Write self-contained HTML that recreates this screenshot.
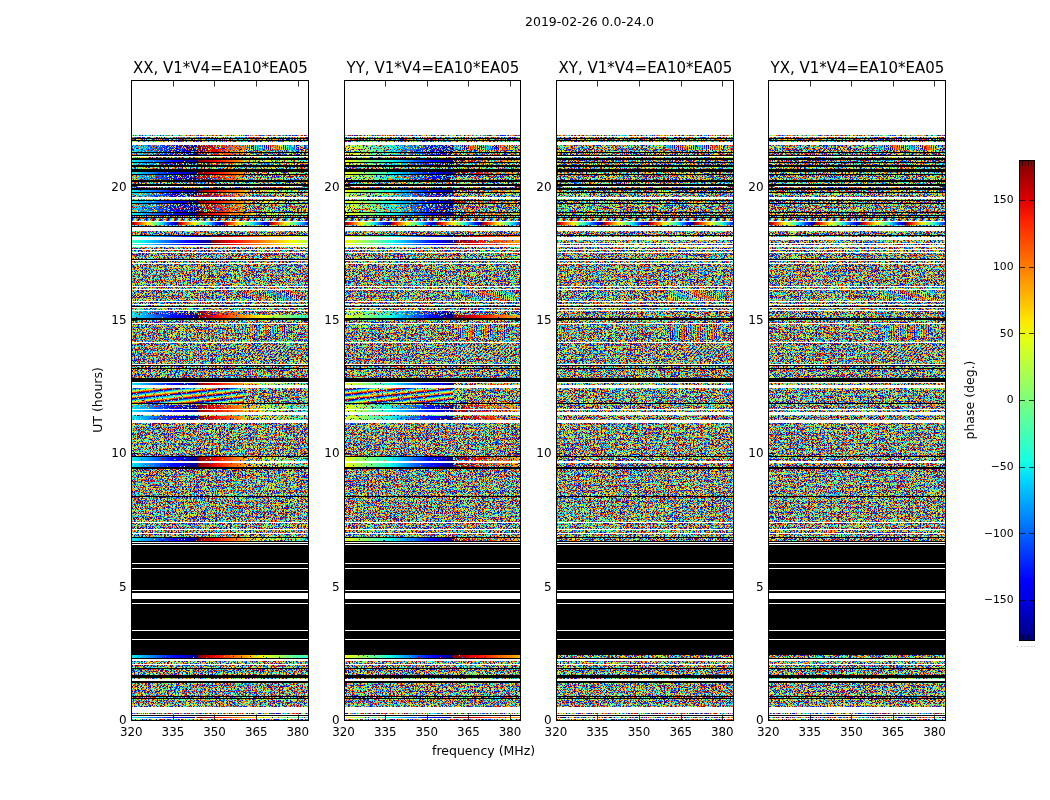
<!DOCTYPE html><html><head><meta charset="utf-8"><title>phase plot</title><style>html,body{margin:0;padding:0;background:#fff;overflow:hidden}svg{display:block}text{font-family:"DejaVu Sans","Liberation Sans",sans-serif;fill:#000}</style></head><body>
<svg width="1050" height="800" viewBox="0 0 1050 800">
<defs>
<filter id="nz0" x="0" y="0" width="100%" height="100%" filterUnits="objectBoundingBox" color-interpolation-filters="sRGB"><feTurbulence type="fractalNoise" baseFrequency="0.73 0.81" numOctaves="1" seed="3"/><feColorMatrix type="matrix" values="1 0 0 0 0 1 0 0 0 0 1 0 0 0 0 0 0 0 0 1"/><feComponentTransfer><feFuncR type="table" tableValues="0 0 0 0 0 0 0 0 0 0 0 0 0 0 0 0 0 0 0 0 0 0 0 0 0 0 0 0 0 0 0 0 0 0 0 0 0 0 0 0.022 0.16 0.3 0.447 0.586 0.728 0.866 1 1 1 1 1 1 1 1 0.994 0.909 0.836 0.77 0.711 0.657 0.614 0.579 0.55 0.53 0.519 0.512 0.507 0.504 0.502 0.501 0.501 0.5 0.5 0.5 0.5 0.5 0.5 0.5 0.5 0.5 0.5 0.5 0.5 0.5 0.5 0.5"/><feFuncG type="table" tableValues="0 0 0 0 0 0 0 0 0 0 0 0 0 0 0 0 0 0 0 0 0 0 0 0 0 0 0 0 0 0 0 0 0.041 0.132 0.233 0.34 0.463 0.6 0.758 0.927 1 1 1 1 1 1 0.917 0.762 0.627 0.513 0.406 0.312 0.226 0.144 0.069 0 0 0 0 0 0 0 0 0 0 0 0 0 0 0 0 0 0 0 0 0 0 0 0 0 0 0 0 0 0 0"/><feFuncB type="table" tableValues="0.5 0.5 0.5 0.5 0.5 0.5 0.5 0.5 0.5 0.5 0.5 0.5 0.5 0.5 0.5 0.501 0.501 0.502 0.503 0.506 0.51 0.517 0.528 0.547 0.574 0.612 0.659 0.712 0.777 0.848 0.93 1 1 1 1 1 1 1 1 0.946 0.807 0.668 0.521 0.381 0.24 0.102 0 0 0 0 0 0 0 0 0 0 0 0 0 0 0 0 0 0 0 0 0 0 0 0 0 0 0 0 0 0 0 0 0 0 0 0 0 0 0 0"/></feComponentTransfer><feComposite operator="in" in2="SourceGraphic"/></filter>
<filter id="nz1" x="0" y="0" width="100%" height="100%" filterUnits="objectBoundingBox" color-interpolation-filters="sRGB"><feTurbulence type="fractalNoise" baseFrequency="0.73 0.81" numOctaves="1" seed="10"/><feColorMatrix type="matrix" values="1 0 0 0 0 1 0 0 0 0 1 0 0 0 0 0 0 0 0 1"/><feComponentTransfer><feFuncR type="table" tableValues="0 0 0 0 0 0 0 0 0 0 0 0 0 0 0 0 0 0 0 0 0 0 0 0 0 0 0 0 0 0 0 0 0 0 0 0 0 0 0 0.022 0.16 0.3 0.447 0.586 0.728 0.866 1 1 1 1 1 1 1 1 0.994 0.909 0.836 0.77 0.711 0.657 0.614 0.579 0.55 0.53 0.519 0.512 0.507 0.504 0.502 0.501 0.501 0.5 0.5 0.5 0.5 0.5 0.5 0.5 0.5 0.5 0.5 0.5 0.5 0.5 0.5 0.5"/><feFuncG type="table" tableValues="0 0 0 0 0 0 0 0 0 0 0 0 0 0 0 0 0 0 0 0 0 0 0 0 0 0 0 0 0 0 0 0 0.041 0.132 0.233 0.34 0.463 0.6 0.758 0.927 1 1 1 1 1 1 0.917 0.762 0.627 0.513 0.406 0.312 0.226 0.144 0.069 0 0 0 0 0 0 0 0 0 0 0 0 0 0 0 0 0 0 0 0 0 0 0 0 0 0 0 0 0 0 0"/><feFuncB type="table" tableValues="0.5 0.5 0.5 0.5 0.5 0.5 0.5 0.5 0.5 0.5 0.5 0.5 0.5 0.5 0.5 0.501 0.501 0.502 0.503 0.506 0.51 0.517 0.528 0.547 0.574 0.612 0.659 0.712 0.777 0.848 0.93 1 1 1 1 1 1 1 1 0.946 0.807 0.668 0.521 0.381 0.24 0.102 0 0 0 0 0 0 0 0 0 0 0 0 0 0 0 0 0 0 0 0 0 0 0 0 0 0 0 0 0 0 0 0 0 0 0 0 0 0 0 0"/></feComponentTransfer><feComposite operator="in" in2="SourceGraphic"/></filter>
<filter id="nz2" x="0" y="0" width="100%" height="100%" filterUnits="objectBoundingBox" color-interpolation-filters="sRGB"><feTurbulence type="fractalNoise" baseFrequency="0.73 0.81" numOctaves="1" seed="17"/><feColorMatrix type="matrix" values="1 0 0 0 0 1 0 0 0 0 1 0 0 0 0 0 0 0 0 1"/><feComponentTransfer><feFuncR type="table" tableValues="0 0 0 0 0 0 0 0 0 0 0 0 0 0 0 0 0 0 0 0 0 0 0 0 0 0 0 0 0 0 0 0 0 0 0 0 0 0 0 0.022 0.16 0.3 0.447 0.586 0.728 0.866 1 1 1 1 1 1 1 1 0.994 0.909 0.836 0.77 0.711 0.657 0.614 0.579 0.55 0.53 0.519 0.512 0.507 0.504 0.502 0.501 0.501 0.5 0.5 0.5 0.5 0.5 0.5 0.5 0.5 0.5 0.5 0.5 0.5 0.5 0.5 0.5"/><feFuncG type="table" tableValues="0 0 0 0 0 0 0 0 0 0 0 0 0 0 0 0 0 0 0 0 0 0 0 0 0 0 0 0 0 0 0 0 0.041 0.132 0.233 0.34 0.463 0.6 0.758 0.927 1 1 1 1 1 1 0.917 0.762 0.627 0.513 0.406 0.312 0.226 0.144 0.069 0 0 0 0 0 0 0 0 0 0 0 0 0 0 0 0 0 0 0 0 0 0 0 0 0 0 0 0 0 0 0"/><feFuncB type="table" tableValues="0.5 0.5 0.5 0.5 0.5 0.5 0.5 0.5 0.5 0.5 0.5 0.5 0.5 0.5 0.5 0.501 0.501 0.502 0.503 0.506 0.51 0.517 0.528 0.547 0.574 0.612 0.659 0.712 0.777 0.848 0.93 1 1 1 1 1 1 1 1 0.946 0.807 0.668 0.521 0.381 0.24 0.102 0 0 0 0 0 0 0 0 0 0 0 0 0 0 0 0 0 0 0 0 0 0 0 0 0 0 0 0 0 0 0 0 0 0 0 0 0 0 0 0"/></feComponentTransfer><feComposite operator="in" in2="SourceGraphic"/></filter>
<filter id="nz3" x="0" y="0" width="100%" height="100%" filterUnits="objectBoundingBox" color-interpolation-filters="sRGB"><feTurbulence type="fractalNoise" baseFrequency="0.73 0.81" numOctaves="1" seed="24"/><feColorMatrix type="matrix" values="1 0 0 0 0 1 0 0 0 0 1 0 0 0 0 0 0 0 0 1"/><feComponentTransfer><feFuncR type="table" tableValues="0 0 0 0 0 0 0 0 0 0 0 0 0 0 0 0 0 0 0 0 0 0 0 0 0 0 0 0 0 0 0 0 0 0 0 0 0 0 0 0.022 0.16 0.3 0.447 0.586 0.728 0.866 1 1 1 1 1 1 1 1 0.994 0.909 0.836 0.77 0.711 0.657 0.614 0.579 0.55 0.53 0.519 0.512 0.507 0.504 0.502 0.501 0.501 0.5 0.5 0.5 0.5 0.5 0.5 0.5 0.5 0.5 0.5 0.5 0.5 0.5 0.5 0.5"/><feFuncG type="table" tableValues="0 0 0 0 0 0 0 0 0 0 0 0 0 0 0 0 0 0 0 0 0 0 0 0 0 0 0 0 0 0 0 0 0.041 0.132 0.233 0.34 0.463 0.6 0.758 0.927 1 1 1 1 1 1 0.917 0.762 0.627 0.513 0.406 0.312 0.226 0.144 0.069 0 0 0 0 0 0 0 0 0 0 0 0 0 0 0 0 0 0 0 0 0 0 0 0 0 0 0 0 0 0 0"/><feFuncB type="table" tableValues="0.5 0.5 0.5 0.5 0.5 0.5 0.5 0.5 0.5 0.5 0.5 0.5 0.5 0.5 0.5 0.501 0.501 0.502 0.503 0.506 0.51 0.517 0.528 0.547 0.574 0.612 0.659 0.712 0.777 0.848 0.93 1 1 1 1 1 1 1 1 0.946 0.807 0.668 0.521 0.381 0.24 0.102 0 0 0 0 0 0 0 0 0 0 0 0 0 0 0 0 0 0 0 0 0 0 0 0 0 0 0 0 0 0 0 0 0 0 0 0 0 0 0 0"/></feComponentTransfer><feComposite operator="in" in2="SourceGraphic"/></filter>
<filter id="ns0" x="0" y="0" width="100%" height="100%" filterUnits="objectBoundingBox" color-interpolation-filters="sRGB"><feTurbulence type="fractalNoise" baseFrequency="0.77 0.69" numOctaves="1" seed="41"/><feColorMatrix type="matrix" values="1 0 0 0 0 1 0 0 0 0 1 0 0 0 0 0 1 0 0 0"/><feComponentTransfer><feFuncR type="table" tableValues="0 0 0 0 0 0 0 0 0 0 0 0 0 0 0 0 0 0 0 0 0 0 0 0 0 0 0 0 0 0 0 0 0 0 0 0 0 0 0 0.022 0.16 0.3 0.447 0.586 0.728 0.866 1 1 1 1 1 1 1 1 0.994 0.909 0.836 0.77 0.711 0.657 0.614 0.579 0.55 0.53 0.519 0.512 0.507 0.504 0.502 0.501 0.501 0.5 0.5 0.5 0.5 0.5 0.5 0.5 0.5 0.5 0.5 0.5 0.5 0.5 0.5 0.5"/><feFuncG type="table" tableValues="0 0 0 0 0 0 0 0 0 0 0 0 0 0 0 0 0 0 0 0 0 0 0 0 0 0 0 0 0 0 0 0 0.041 0.132 0.233 0.34 0.463 0.6 0.758 0.927 1 1 1 1 1 1 0.917 0.762 0.627 0.513 0.406 0.312 0.226 0.144 0.069 0 0 0 0 0 0 0 0 0 0 0 0 0 0 0 0 0 0 0 0 0 0 0 0 0 0 0 0 0 0 0"/><feFuncB type="table" tableValues="0.5 0.5 0.5 0.5 0.5 0.5 0.5 0.5 0.5 0.5 0.5 0.5 0.5 0.5 0.5 0.501 0.501 0.502 0.503 0.506 0.51 0.517 0.528 0.547 0.574 0.612 0.659 0.712 0.777 0.848 0.93 1 1 1 1 1 1 1 1 0.946 0.807 0.668 0.521 0.381 0.24 0.102 0 0 0 0 0 0 0 0 0 0 0 0 0 0 0 0 0 0 0 0 0 0 0 0 0 0 0 0 0 0 0 0 0 0 0 0 0 0 0 0"/><feFuncA type="linear" slope="255" intercept="-176.0"/></feComponentTransfer><feComposite operator="in" in2="SourceGraphic"/></filter>
<filter id="nq0" x="0" y="0" width="100%" height="100%" filterUnits="objectBoundingBox" color-interpolation-filters="sRGB"><feTurbulence type="fractalNoise" baseFrequency="0.79 0.67" numOctaves="1" seed="52"/><feColorMatrix type="matrix" values="1 0 0 0 0 1 0 0 0 0 1 0 0 0 0 0 1 0 0 0"/><feComponentTransfer><feFuncR type="table" tableValues="0 0 0 0 0 0 0 0 0 0 0 0 0 0 0 0 0 0 0 0 0 0 0 0 0 0 0 0 0 0 0 0 0 0 0 0 0 0 0 0.022 0.16 0.3 0.447 0.586 0.728 0.866 1 1 1 1 1 1 1 1 0.994 0.909 0.836 0.77 0.711 0.657 0.614 0.579 0.55 0.53 0.519 0.512 0.507 0.504 0.502 0.501 0.501 0.5 0.5 0.5 0.5 0.5 0.5 0.5 0.5 0.5 0.5 0.5 0.5 0.5 0.5 0.5"/><feFuncG type="table" tableValues="0 0 0 0 0 0 0 0 0 0 0 0 0 0 0 0 0 0 0 0 0 0 0 0 0 0 0 0 0 0 0 0 0.041 0.132 0.233 0.34 0.463 0.6 0.758 0.927 1 1 1 1 1 1 0.917 0.762 0.627 0.513 0.406 0.312 0.226 0.144 0.069 0 0 0 0 0 0 0 0 0 0 0 0 0 0 0 0 0 0 0 0 0 0 0 0 0 0 0 0 0 0 0"/><feFuncB type="table" tableValues="0.5 0.5 0.5 0.5 0.5 0.5 0.5 0.5 0.5 0.5 0.5 0.5 0.5 0.5 0.5 0.501 0.501 0.502 0.503 0.506 0.51 0.517 0.528 0.547 0.574 0.612 0.659 0.712 0.777 0.848 0.93 1 1 1 1 1 1 1 1 0.946 0.807 0.668 0.521 0.381 0.24 0.102 0 0 0 0 0 0 0 0 0 0 0 0 0 0 0 0 0 0 0 0 0 0 0 0 0 0 0 0 0 0 0 0 0 0 0 0 0 0 0 0"/><feFuncA type="linear" slope="255" intercept="-145.0"/></feComponentTransfer><feComposite operator="in" in2="SourceGraphic"/></filter>
<filter id="nh0" x="0" y="0" width="100%" height="100%" filterUnits="objectBoundingBox" color-interpolation-filters="sRGB"><feTurbulence type="fractalNoise" baseFrequency="0.71 0.83" numOctaves="1" seed="63"/><feColorMatrix type="matrix" values="1 0 0 0 0 1 0 0 0 0 1 0 0 0 0 0 1 0 0 0"/><feComponentTransfer><feFuncR type="table" tableValues="0 0 0 0 0 0 0 0 0 0 0 0 0 0 0 0 0 0 0 0 0 0 0 0 0 0 0 0 0 0 0 0 0 0 0 0 0 0 0 0.022 0.16 0.3 0.447 0.586 0.728 0.866 1 1 1 1 1 1 1 1 0.994 0.909 0.836 0.77 0.711 0.657 0.614 0.579 0.55 0.53 0.519 0.512 0.507 0.504 0.502 0.501 0.501 0.5 0.5 0.5 0.5 0.5 0.5 0.5 0.5 0.5 0.5 0.5 0.5 0.5 0.5 0.5"/><feFuncG type="table" tableValues="0 0 0 0 0 0 0 0 0 0 0 0 0 0 0 0 0 0 0 0 0 0 0 0 0 0 0 0 0 0 0 0 0.041 0.132 0.233 0.34 0.463 0.6 0.758 0.927 1 1 1 1 1 1 0.917 0.762 0.627 0.513 0.406 0.312 0.226 0.144 0.069 0 0 0 0 0 0 0 0 0 0 0 0 0 0 0 0 0 0 0 0 0 0 0 0 0 0 0 0 0 0 0"/><feFuncB type="table" tableValues="0.5 0.5 0.5 0.5 0.5 0.5 0.5 0.5 0.5 0.5 0.5 0.5 0.5 0.5 0.5 0.501 0.501 0.502 0.503 0.506 0.51 0.517 0.528 0.547 0.574 0.612 0.659 0.712 0.777 0.848 0.93 1 1 1 1 1 1 1 1 0.946 0.807 0.668 0.521 0.381 0.24 0.102 0 0 0 0 0 0 0 0 0 0 0 0 0 0 0 0 0 0 0 0 0 0 0 0 0 0 0 0 0 0 0 0 0 0 0 0 0 0 0 0"/><feFuncA type="linear" slope="255" intercept="-128.0"/></feComponentTransfer><feComposite operator="in" in2="SourceGraphic"/></filter>
<filter id="nd0" x="0" y="0" width="100%" height="100%" filterUnits="objectBoundingBox" color-interpolation-filters="sRGB"><feTurbulence type="fractalNoise" baseFrequency="0.69 0.87" numOctaves="1" seed="74"/><feColorMatrix type="matrix" values="1 0 0 0 0 1 0 0 0 0 1 0 0 0 0 0 1 0 0 0"/><feComponentTransfer><feFuncR type="table" tableValues="0 0 0 0 0 0 0 0 0 0 0 0 0 0 0 0 0 0 0 0 0 0 0 0 0 0 0 0 0 0 0 0 0 0 0 0 0 0 0 0.022 0.16 0.3 0.447 0.586 0.728 0.866 1 1 1 1 1 1 1 1 0.994 0.909 0.836 0.77 0.711 0.657 0.614 0.579 0.55 0.53 0.519 0.512 0.507 0.504 0.502 0.501 0.501 0.5 0.5 0.5 0.5 0.5 0.5 0.5 0.5 0.5 0.5 0.5 0.5 0.5 0.5 0.5"/><feFuncG type="table" tableValues="0 0 0 0 0 0 0 0 0 0 0 0 0 0 0 0 0 0 0 0 0 0 0 0 0 0 0 0 0 0 0 0 0.041 0.132 0.233 0.34 0.463 0.6 0.758 0.927 1 1 1 1 1 1 0.917 0.762 0.627 0.513 0.406 0.312 0.226 0.144 0.069 0 0 0 0 0 0 0 0 0 0 0 0 0 0 0 0 0 0 0 0 0 0 0 0 0 0 0 0 0 0 0"/><feFuncB type="table" tableValues="0.5 0.5 0.5 0.5 0.5 0.5 0.5 0.5 0.5 0.5 0.5 0.5 0.5 0.5 0.5 0.501 0.501 0.502 0.503 0.506 0.51 0.517 0.528 0.547 0.574 0.612 0.659 0.712 0.777 0.848 0.93 1 1 1 1 1 1 1 1 0.946 0.807 0.668 0.521 0.381 0.24 0.102 0 0 0 0 0 0 0 0 0 0 0 0 0 0 0 0 0 0 0 0 0 0 0 0 0 0 0 0 0 0 0 0 0 0 0 0 0 0 0 0"/><feFuncA type="linear" slope="255" intercept="-121.0"/></feComponentTransfer><feComposite operator="in" in2="SourceGraphic"/></filter>
<filter id="ns1" x="0" y="0" width="100%" height="100%" filterUnits="objectBoundingBox" color-interpolation-filters="sRGB"><feTurbulence type="fractalNoise" baseFrequency="0.77 0.69" numOctaves="1" seed="46"/><feColorMatrix type="matrix" values="1 0 0 0 0 1 0 0 0 0 1 0 0 0 0 0 1 0 0 0"/><feComponentTransfer><feFuncR type="table" tableValues="0 0 0 0 0 0 0 0 0 0 0 0 0 0 0 0 0 0 0 0 0 0 0 0 0 0 0 0 0 0 0 0 0 0 0 0 0 0 0 0.022 0.16 0.3 0.447 0.586 0.728 0.866 1 1 1 1 1 1 1 1 0.994 0.909 0.836 0.77 0.711 0.657 0.614 0.579 0.55 0.53 0.519 0.512 0.507 0.504 0.502 0.501 0.501 0.5 0.5 0.5 0.5 0.5 0.5 0.5 0.5 0.5 0.5 0.5 0.5 0.5 0.5 0.5"/><feFuncG type="table" tableValues="0 0 0 0 0 0 0 0 0 0 0 0 0 0 0 0 0 0 0 0 0 0 0 0 0 0 0 0 0 0 0 0 0.041 0.132 0.233 0.34 0.463 0.6 0.758 0.927 1 1 1 1 1 1 0.917 0.762 0.627 0.513 0.406 0.312 0.226 0.144 0.069 0 0 0 0 0 0 0 0 0 0 0 0 0 0 0 0 0 0 0 0 0 0 0 0 0 0 0 0 0 0 0"/><feFuncB type="table" tableValues="0.5 0.5 0.5 0.5 0.5 0.5 0.5 0.5 0.5 0.5 0.5 0.5 0.5 0.5 0.5 0.501 0.501 0.502 0.503 0.506 0.51 0.517 0.528 0.547 0.574 0.612 0.659 0.712 0.777 0.848 0.93 1 1 1 1 1 1 1 1 0.946 0.807 0.668 0.521 0.381 0.24 0.102 0 0 0 0 0 0 0 0 0 0 0 0 0 0 0 0 0 0 0 0 0 0 0 0 0 0 0 0 0 0 0 0 0 0 0 0 0 0 0 0"/><feFuncA type="linear" slope="255" intercept="-176.0"/></feComponentTransfer><feComposite operator="in" in2="SourceGraphic"/></filter>
<filter id="nq1" x="0" y="0" width="100%" height="100%" filterUnits="objectBoundingBox" color-interpolation-filters="sRGB"><feTurbulence type="fractalNoise" baseFrequency="0.79 0.67" numOctaves="1" seed="57"/><feColorMatrix type="matrix" values="1 0 0 0 0 1 0 0 0 0 1 0 0 0 0 0 1 0 0 0"/><feComponentTransfer><feFuncR type="table" tableValues="0 0 0 0 0 0 0 0 0 0 0 0 0 0 0 0 0 0 0 0 0 0 0 0 0 0 0 0 0 0 0 0 0 0 0 0 0 0 0 0.022 0.16 0.3 0.447 0.586 0.728 0.866 1 1 1 1 1 1 1 1 0.994 0.909 0.836 0.77 0.711 0.657 0.614 0.579 0.55 0.53 0.519 0.512 0.507 0.504 0.502 0.501 0.501 0.5 0.5 0.5 0.5 0.5 0.5 0.5 0.5 0.5 0.5 0.5 0.5 0.5 0.5 0.5"/><feFuncG type="table" tableValues="0 0 0 0 0 0 0 0 0 0 0 0 0 0 0 0 0 0 0 0 0 0 0 0 0 0 0 0 0 0 0 0 0.041 0.132 0.233 0.34 0.463 0.6 0.758 0.927 1 1 1 1 1 1 0.917 0.762 0.627 0.513 0.406 0.312 0.226 0.144 0.069 0 0 0 0 0 0 0 0 0 0 0 0 0 0 0 0 0 0 0 0 0 0 0 0 0 0 0 0 0 0 0"/><feFuncB type="table" tableValues="0.5 0.5 0.5 0.5 0.5 0.5 0.5 0.5 0.5 0.5 0.5 0.5 0.5 0.5 0.5 0.501 0.501 0.502 0.503 0.506 0.51 0.517 0.528 0.547 0.574 0.612 0.659 0.712 0.777 0.848 0.93 1 1 1 1 1 1 1 1 0.946 0.807 0.668 0.521 0.381 0.24 0.102 0 0 0 0 0 0 0 0 0 0 0 0 0 0 0 0 0 0 0 0 0 0 0 0 0 0 0 0 0 0 0 0 0 0 0 0 0 0 0 0"/><feFuncA type="linear" slope="255" intercept="-145.0"/></feComponentTransfer><feComposite operator="in" in2="SourceGraphic"/></filter>
<filter id="nh1" x="0" y="0" width="100%" height="100%" filterUnits="objectBoundingBox" color-interpolation-filters="sRGB"><feTurbulence type="fractalNoise" baseFrequency="0.71 0.83" numOctaves="1" seed="68"/><feColorMatrix type="matrix" values="1 0 0 0 0 1 0 0 0 0 1 0 0 0 0 0 1 0 0 0"/><feComponentTransfer><feFuncR type="table" tableValues="0 0 0 0 0 0 0 0 0 0 0 0 0 0 0 0 0 0 0 0 0 0 0 0 0 0 0 0 0 0 0 0 0 0 0 0 0 0 0 0.022 0.16 0.3 0.447 0.586 0.728 0.866 1 1 1 1 1 1 1 1 0.994 0.909 0.836 0.77 0.711 0.657 0.614 0.579 0.55 0.53 0.519 0.512 0.507 0.504 0.502 0.501 0.501 0.5 0.5 0.5 0.5 0.5 0.5 0.5 0.5 0.5 0.5 0.5 0.5 0.5 0.5 0.5"/><feFuncG type="table" tableValues="0 0 0 0 0 0 0 0 0 0 0 0 0 0 0 0 0 0 0 0 0 0 0 0 0 0 0 0 0 0 0 0 0.041 0.132 0.233 0.34 0.463 0.6 0.758 0.927 1 1 1 1 1 1 0.917 0.762 0.627 0.513 0.406 0.312 0.226 0.144 0.069 0 0 0 0 0 0 0 0 0 0 0 0 0 0 0 0 0 0 0 0 0 0 0 0 0 0 0 0 0 0 0"/><feFuncB type="table" tableValues="0.5 0.5 0.5 0.5 0.5 0.5 0.5 0.5 0.5 0.5 0.5 0.5 0.5 0.5 0.5 0.501 0.501 0.502 0.503 0.506 0.51 0.517 0.528 0.547 0.574 0.612 0.659 0.712 0.777 0.848 0.93 1 1 1 1 1 1 1 1 0.946 0.807 0.668 0.521 0.381 0.24 0.102 0 0 0 0 0 0 0 0 0 0 0 0 0 0 0 0 0 0 0 0 0 0 0 0 0 0 0 0 0 0 0 0 0 0 0 0 0 0 0 0"/><feFuncA type="linear" slope="255" intercept="-128.0"/></feComponentTransfer><feComposite operator="in" in2="SourceGraphic"/></filter>
<filter id="nd1" x="0" y="0" width="100%" height="100%" filterUnits="objectBoundingBox" color-interpolation-filters="sRGB"><feTurbulence type="fractalNoise" baseFrequency="0.69 0.87" numOctaves="1" seed="79"/><feColorMatrix type="matrix" values="1 0 0 0 0 1 0 0 0 0 1 0 0 0 0 0 1 0 0 0"/><feComponentTransfer><feFuncR type="table" tableValues="0 0 0 0 0 0 0 0 0 0 0 0 0 0 0 0 0 0 0 0 0 0 0 0 0 0 0 0 0 0 0 0 0 0 0 0 0 0 0 0.022 0.16 0.3 0.447 0.586 0.728 0.866 1 1 1 1 1 1 1 1 0.994 0.909 0.836 0.77 0.711 0.657 0.614 0.579 0.55 0.53 0.519 0.512 0.507 0.504 0.502 0.501 0.501 0.5 0.5 0.5 0.5 0.5 0.5 0.5 0.5 0.5 0.5 0.5 0.5 0.5 0.5 0.5"/><feFuncG type="table" tableValues="0 0 0 0 0 0 0 0 0 0 0 0 0 0 0 0 0 0 0 0 0 0 0 0 0 0 0 0 0 0 0 0 0.041 0.132 0.233 0.34 0.463 0.6 0.758 0.927 1 1 1 1 1 1 0.917 0.762 0.627 0.513 0.406 0.312 0.226 0.144 0.069 0 0 0 0 0 0 0 0 0 0 0 0 0 0 0 0 0 0 0 0 0 0 0 0 0 0 0 0 0 0 0"/><feFuncB type="table" tableValues="0.5 0.5 0.5 0.5 0.5 0.5 0.5 0.5 0.5 0.5 0.5 0.5 0.5 0.5 0.5 0.501 0.501 0.502 0.503 0.506 0.51 0.517 0.528 0.547 0.574 0.612 0.659 0.712 0.777 0.848 0.93 1 1 1 1 1 1 1 1 0.946 0.807 0.668 0.521 0.381 0.24 0.102 0 0 0 0 0 0 0 0 0 0 0 0 0 0 0 0 0 0 0 0 0 0 0 0 0 0 0 0 0 0 0 0 0 0 0 0 0 0 0 0"/><feFuncA type="linear" slope="255" intercept="-121.0"/></feComponentTransfer><feComposite operator="in" in2="SourceGraphic"/></filter>
<filter id="ns2" x="0" y="0" width="100%" height="100%" filterUnits="objectBoundingBox" color-interpolation-filters="sRGB"><feTurbulence type="fractalNoise" baseFrequency="0.77 0.69" numOctaves="1" seed="51"/><feColorMatrix type="matrix" values="1 0 0 0 0 1 0 0 0 0 1 0 0 0 0 0 1 0 0 0"/><feComponentTransfer><feFuncR type="table" tableValues="0 0 0 0 0 0 0 0 0 0 0 0 0 0 0 0 0 0 0 0 0 0 0 0 0 0 0 0 0 0 0 0 0 0 0 0 0 0 0 0.022 0.16 0.3 0.447 0.586 0.728 0.866 1 1 1 1 1 1 1 1 0.994 0.909 0.836 0.77 0.711 0.657 0.614 0.579 0.55 0.53 0.519 0.512 0.507 0.504 0.502 0.501 0.501 0.5 0.5 0.5 0.5 0.5 0.5 0.5 0.5 0.5 0.5 0.5 0.5 0.5 0.5 0.5"/><feFuncG type="table" tableValues="0 0 0 0 0 0 0 0 0 0 0 0 0 0 0 0 0 0 0 0 0 0 0 0 0 0 0 0 0 0 0 0 0.041 0.132 0.233 0.34 0.463 0.6 0.758 0.927 1 1 1 1 1 1 0.917 0.762 0.627 0.513 0.406 0.312 0.226 0.144 0.069 0 0 0 0 0 0 0 0 0 0 0 0 0 0 0 0 0 0 0 0 0 0 0 0 0 0 0 0 0 0 0"/><feFuncB type="table" tableValues="0.5 0.5 0.5 0.5 0.5 0.5 0.5 0.5 0.5 0.5 0.5 0.5 0.5 0.5 0.5 0.501 0.501 0.502 0.503 0.506 0.51 0.517 0.528 0.547 0.574 0.612 0.659 0.712 0.777 0.848 0.93 1 1 1 1 1 1 1 1 0.946 0.807 0.668 0.521 0.381 0.24 0.102 0 0 0 0 0 0 0 0 0 0 0 0 0 0 0 0 0 0 0 0 0 0 0 0 0 0 0 0 0 0 0 0 0 0 0 0 0 0 0 0"/><feFuncA type="linear" slope="255" intercept="-176.0"/></feComponentTransfer><feComposite operator="in" in2="SourceGraphic"/></filter>
<filter id="nq2" x="0" y="0" width="100%" height="100%" filterUnits="objectBoundingBox" color-interpolation-filters="sRGB"><feTurbulence type="fractalNoise" baseFrequency="0.79 0.67" numOctaves="1" seed="62"/><feColorMatrix type="matrix" values="1 0 0 0 0 1 0 0 0 0 1 0 0 0 0 0 1 0 0 0"/><feComponentTransfer><feFuncR type="table" tableValues="0 0 0 0 0 0 0 0 0 0 0 0 0 0 0 0 0 0 0 0 0 0 0 0 0 0 0 0 0 0 0 0 0 0 0 0 0 0 0 0.022 0.16 0.3 0.447 0.586 0.728 0.866 1 1 1 1 1 1 1 1 0.994 0.909 0.836 0.77 0.711 0.657 0.614 0.579 0.55 0.53 0.519 0.512 0.507 0.504 0.502 0.501 0.501 0.5 0.5 0.5 0.5 0.5 0.5 0.5 0.5 0.5 0.5 0.5 0.5 0.5 0.5 0.5"/><feFuncG type="table" tableValues="0 0 0 0 0 0 0 0 0 0 0 0 0 0 0 0 0 0 0 0 0 0 0 0 0 0 0 0 0 0 0 0 0.041 0.132 0.233 0.34 0.463 0.6 0.758 0.927 1 1 1 1 1 1 0.917 0.762 0.627 0.513 0.406 0.312 0.226 0.144 0.069 0 0 0 0 0 0 0 0 0 0 0 0 0 0 0 0 0 0 0 0 0 0 0 0 0 0 0 0 0 0 0"/><feFuncB type="table" tableValues="0.5 0.5 0.5 0.5 0.5 0.5 0.5 0.5 0.5 0.5 0.5 0.5 0.5 0.5 0.5 0.501 0.501 0.502 0.503 0.506 0.51 0.517 0.528 0.547 0.574 0.612 0.659 0.712 0.777 0.848 0.93 1 1 1 1 1 1 1 1 0.946 0.807 0.668 0.521 0.381 0.24 0.102 0 0 0 0 0 0 0 0 0 0 0 0 0 0 0 0 0 0 0 0 0 0 0 0 0 0 0 0 0 0 0 0 0 0 0 0 0 0 0 0"/><feFuncA type="linear" slope="255" intercept="-145.0"/></feComponentTransfer><feComposite operator="in" in2="SourceGraphic"/></filter>
<filter id="nh2" x="0" y="0" width="100%" height="100%" filterUnits="objectBoundingBox" color-interpolation-filters="sRGB"><feTurbulence type="fractalNoise" baseFrequency="0.71 0.83" numOctaves="1" seed="73"/><feColorMatrix type="matrix" values="1 0 0 0 0 1 0 0 0 0 1 0 0 0 0 0 1 0 0 0"/><feComponentTransfer><feFuncR type="table" tableValues="0 0 0 0 0 0 0 0 0 0 0 0 0 0 0 0 0 0 0 0 0 0 0 0 0 0 0 0 0 0 0 0 0 0 0 0 0 0 0 0.022 0.16 0.3 0.447 0.586 0.728 0.866 1 1 1 1 1 1 1 1 0.994 0.909 0.836 0.77 0.711 0.657 0.614 0.579 0.55 0.53 0.519 0.512 0.507 0.504 0.502 0.501 0.501 0.5 0.5 0.5 0.5 0.5 0.5 0.5 0.5 0.5 0.5 0.5 0.5 0.5 0.5 0.5"/><feFuncG type="table" tableValues="0 0 0 0 0 0 0 0 0 0 0 0 0 0 0 0 0 0 0 0 0 0 0 0 0 0 0 0 0 0 0 0 0.041 0.132 0.233 0.34 0.463 0.6 0.758 0.927 1 1 1 1 1 1 0.917 0.762 0.627 0.513 0.406 0.312 0.226 0.144 0.069 0 0 0 0 0 0 0 0 0 0 0 0 0 0 0 0 0 0 0 0 0 0 0 0 0 0 0 0 0 0 0"/><feFuncB type="table" tableValues="0.5 0.5 0.5 0.5 0.5 0.5 0.5 0.5 0.5 0.5 0.5 0.5 0.5 0.5 0.5 0.501 0.501 0.502 0.503 0.506 0.51 0.517 0.528 0.547 0.574 0.612 0.659 0.712 0.777 0.848 0.93 1 1 1 1 1 1 1 1 0.946 0.807 0.668 0.521 0.381 0.24 0.102 0 0 0 0 0 0 0 0 0 0 0 0 0 0 0 0 0 0 0 0 0 0 0 0 0 0 0 0 0 0 0 0 0 0 0 0 0 0 0 0"/><feFuncA type="linear" slope="255" intercept="-128.0"/></feComponentTransfer><feComposite operator="in" in2="SourceGraphic"/></filter>
<filter id="nd2" x="0" y="0" width="100%" height="100%" filterUnits="objectBoundingBox" color-interpolation-filters="sRGB"><feTurbulence type="fractalNoise" baseFrequency="0.69 0.87" numOctaves="1" seed="84"/><feColorMatrix type="matrix" values="1 0 0 0 0 1 0 0 0 0 1 0 0 0 0 0 1 0 0 0"/><feComponentTransfer><feFuncR type="table" tableValues="0 0 0 0 0 0 0 0 0 0 0 0 0 0 0 0 0 0 0 0 0 0 0 0 0 0 0 0 0 0 0 0 0 0 0 0 0 0 0 0.022 0.16 0.3 0.447 0.586 0.728 0.866 1 1 1 1 1 1 1 1 0.994 0.909 0.836 0.77 0.711 0.657 0.614 0.579 0.55 0.53 0.519 0.512 0.507 0.504 0.502 0.501 0.501 0.5 0.5 0.5 0.5 0.5 0.5 0.5 0.5 0.5 0.5 0.5 0.5 0.5 0.5 0.5"/><feFuncG type="table" tableValues="0 0 0 0 0 0 0 0 0 0 0 0 0 0 0 0 0 0 0 0 0 0 0 0 0 0 0 0 0 0 0 0 0.041 0.132 0.233 0.34 0.463 0.6 0.758 0.927 1 1 1 1 1 1 0.917 0.762 0.627 0.513 0.406 0.312 0.226 0.144 0.069 0 0 0 0 0 0 0 0 0 0 0 0 0 0 0 0 0 0 0 0 0 0 0 0 0 0 0 0 0 0 0"/><feFuncB type="table" tableValues="0.5 0.5 0.5 0.5 0.5 0.5 0.5 0.5 0.5 0.5 0.5 0.5 0.5 0.5 0.5 0.501 0.501 0.502 0.503 0.506 0.51 0.517 0.528 0.547 0.574 0.612 0.659 0.712 0.777 0.848 0.93 1 1 1 1 1 1 1 1 0.946 0.807 0.668 0.521 0.381 0.24 0.102 0 0 0 0 0 0 0 0 0 0 0 0 0 0 0 0 0 0 0 0 0 0 0 0 0 0 0 0 0 0 0 0 0 0 0 0 0 0 0 0"/><feFuncA type="linear" slope="255" intercept="-121.0"/></feComponentTransfer><feComposite operator="in" in2="SourceGraphic"/></filter>
<filter id="ns3" x="0" y="0" width="100%" height="100%" filterUnits="objectBoundingBox" color-interpolation-filters="sRGB"><feTurbulence type="fractalNoise" baseFrequency="0.77 0.69" numOctaves="1" seed="56"/><feColorMatrix type="matrix" values="1 0 0 0 0 1 0 0 0 0 1 0 0 0 0 0 1 0 0 0"/><feComponentTransfer><feFuncR type="table" tableValues="0 0 0 0 0 0 0 0 0 0 0 0 0 0 0 0 0 0 0 0 0 0 0 0 0 0 0 0 0 0 0 0 0 0 0 0 0 0 0 0.022 0.16 0.3 0.447 0.586 0.728 0.866 1 1 1 1 1 1 1 1 0.994 0.909 0.836 0.77 0.711 0.657 0.614 0.579 0.55 0.53 0.519 0.512 0.507 0.504 0.502 0.501 0.501 0.5 0.5 0.5 0.5 0.5 0.5 0.5 0.5 0.5 0.5 0.5 0.5 0.5 0.5 0.5"/><feFuncG type="table" tableValues="0 0 0 0 0 0 0 0 0 0 0 0 0 0 0 0 0 0 0 0 0 0 0 0 0 0 0 0 0 0 0 0 0.041 0.132 0.233 0.34 0.463 0.6 0.758 0.927 1 1 1 1 1 1 0.917 0.762 0.627 0.513 0.406 0.312 0.226 0.144 0.069 0 0 0 0 0 0 0 0 0 0 0 0 0 0 0 0 0 0 0 0 0 0 0 0 0 0 0 0 0 0 0"/><feFuncB type="table" tableValues="0.5 0.5 0.5 0.5 0.5 0.5 0.5 0.5 0.5 0.5 0.5 0.5 0.5 0.5 0.5 0.501 0.501 0.502 0.503 0.506 0.51 0.517 0.528 0.547 0.574 0.612 0.659 0.712 0.777 0.848 0.93 1 1 1 1 1 1 1 1 0.946 0.807 0.668 0.521 0.381 0.24 0.102 0 0 0 0 0 0 0 0 0 0 0 0 0 0 0 0 0 0 0 0 0 0 0 0 0 0 0 0 0 0 0 0 0 0 0 0 0 0 0 0"/><feFuncA type="linear" slope="255" intercept="-176.0"/></feComponentTransfer><feComposite operator="in" in2="SourceGraphic"/></filter>
<filter id="nq3" x="0" y="0" width="100%" height="100%" filterUnits="objectBoundingBox" color-interpolation-filters="sRGB"><feTurbulence type="fractalNoise" baseFrequency="0.79 0.67" numOctaves="1" seed="67"/><feColorMatrix type="matrix" values="1 0 0 0 0 1 0 0 0 0 1 0 0 0 0 0 1 0 0 0"/><feComponentTransfer><feFuncR type="table" tableValues="0 0 0 0 0 0 0 0 0 0 0 0 0 0 0 0 0 0 0 0 0 0 0 0 0 0 0 0 0 0 0 0 0 0 0 0 0 0 0 0.022 0.16 0.3 0.447 0.586 0.728 0.866 1 1 1 1 1 1 1 1 0.994 0.909 0.836 0.77 0.711 0.657 0.614 0.579 0.55 0.53 0.519 0.512 0.507 0.504 0.502 0.501 0.501 0.5 0.5 0.5 0.5 0.5 0.5 0.5 0.5 0.5 0.5 0.5 0.5 0.5 0.5 0.5"/><feFuncG type="table" tableValues="0 0 0 0 0 0 0 0 0 0 0 0 0 0 0 0 0 0 0 0 0 0 0 0 0 0 0 0 0 0 0 0 0.041 0.132 0.233 0.34 0.463 0.6 0.758 0.927 1 1 1 1 1 1 0.917 0.762 0.627 0.513 0.406 0.312 0.226 0.144 0.069 0 0 0 0 0 0 0 0 0 0 0 0 0 0 0 0 0 0 0 0 0 0 0 0 0 0 0 0 0 0 0"/><feFuncB type="table" tableValues="0.5 0.5 0.5 0.5 0.5 0.5 0.5 0.5 0.5 0.5 0.5 0.5 0.5 0.5 0.5 0.501 0.501 0.502 0.503 0.506 0.51 0.517 0.528 0.547 0.574 0.612 0.659 0.712 0.777 0.848 0.93 1 1 1 1 1 1 1 1 0.946 0.807 0.668 0.521 0.381 0.24 0.102 0 0 0 0 0 0 0 0 0 0 0 0 0 0 0 0 0 0 0 0 0 0 0 0 0 0 0 0 0 0 0 0 0 0 0 0 0 0 0 0"/><feFuncA type="linear" slope="255" intercept="-145.0"/></feComponentTransfer><feComposite operator="in" in2="SourceGraphic"/></filter>
<filter id="nh3" x="0" y="0" width="100%" height="100%" filterUnits="objectBoundingBox" color-interpolation-filters="sRGB"><feTurbulence type="fractalNoise" baseFrequency="0.71 0.83" numOctaves="1" seed="78"/><feColorMatrix type="matrix" values="1 0 0 0 0 1 0 0 0 0 1 0 0 0 0 0 1 0 0 0"/><feComponentTransfer><feFuncR type="table" tableValues="0 0 0 0 0 0 0 0 0 0 0 0 0 0 0 0 0 0 0 0 0 0 0 0 0 0 0 0 0 0 0 0 0 0 0 0 0 0 0 0.022 0.16 0.3 0.447 0.586 0.728 0.866 1 1 1 1 1 1 1 1 0.994 0.909 0.836 0.77 0.711 0.657 0.614 0.579 0.55 0.53 0.519 0.512 0.507 0.504 0.502 0.501 0.501 0.5 0.5 0.5 0.5 0.5 0.5 0.5 0.5 0.5 0.5 0.5 0.5 0.5 0.5 0.5"/><feFuncG type="table" tableValues="0 0 0 0 0 0 0 0 0 0 0 0 0 0 0 0 0 0 0 0 0 0 0 0 0 0 0 0 0 0 0 0 0.041 0.132 0.233 0.34 0.463 0.6 0.758 0.927 1 1 1 1 1 1 0.917 0.762 0.627 0.513 0.406 0.312 0.226 0.144 0.069 0 0 0 0 0 0 0 0 0 0 0 0 0 0 0 0 0 0 0 0 0 0 0 0 0 0 0 0 0 0 0"/><feFuncB type="table" tableValues="0.5 0.5 0.5 0.5 0.5 0.5 0.5 0.5 0.5 0.5 0.5 0.5 0.5 0.5 0.5 0.501 0.501 0.502 0.503 0.506 0.51 0.517 0.528 0.547 0.574 0.612 0.659 0.712 0.777 0.848 0.93 1 1 1 1 1 1 1 1 0.946 0.807 0.668 0.521 0.381 0.24 0.102 0 0 0 0 0 0 0 0 0 0 0 0 0 0 0 0 0 0 0 0 0 0 0 0 0 0 0 0 0 0 0 0 0 0 0 0 0 0 0 0"/><feFuncA type="linear" slope="255" intercept="-128.0"/></feComponentTransfer><feComposite operator="in" in2="SourceGraphic"/></filter>
<filter id="nd3" x="0" y="0" width="100%" height="100%" filterUnits="objectBoundingBox" color-interpolation-filters="sRGB"><feTurbulence type="fractalNoise" baseFrequency="0.69 0.87" numOctaves="1" seed="89"/><feColorMatrix type="matrix" values="1 0 0 0 0 1 0 0 0 0 1 0 0 0 0 0 1 0 0 0"/><feComponentTransfer><feFuncR type="table" tableValues="0 0 0 0 0 0 0 0 0 0 0 0 0 0 0 0 0 0 0 0 0 0 0 0 0 0 0 0 0 0 0 0 0 0 0 0 0 0 0 0.022 0.16 0.3 0.447 0.586 0.728 0.866 1 1 1 1 1 1 1 1 0.994 0.909 0.836 0.77 0.711 0.657 0.614 0.579 0.55 0.53 0.519 0.512 0.507 0.504 0.502 0.501 0.501 0.5 0.5 0.5 0.5 0.5 0.5 0.5 0.5 0.5 0.5 0.5 0.5 0.5 0.5 0.5"/><feFuncG type="table" tableValues="0 0 0 0 0 0 0 0 0 0 0 0 0 0 0 0 0 0 0 0 0 0 0 0 0 0 0 0 0 0 0 0 0.041 0.132 0.233 0.34 0.463 0.6 0.758 0.927 1 1 1 1 1 1 0.917 0.762 0.627 0.513 0.406 0.312 0.226 0.144 0.069 0 0 0 0 0 0 0 0 0 0 0 0 0 0 0 0 0 0 0 0 0 0 0 0 0 0 0 0 0 0 0"/><feFuncB type="table" tableValues="0.5 0.5 0.5 0.5 0.5 0.5 0.5 0.5 0.5 0.5 0.5 0.5 0.5 0.5 0.5 0.501 0.501 0.502 0.503 0.506 0.51 0.517 0.528 0.547 0.574 0.612 0.659 0.712 0.777 0.848 0.93 1 1 1 1 1 1 1 1 0.946 0.807 0.668 0.521 0.381 0.24 0.102 0 0 0 0 0 0 0 0 0 0 0 0 0 0 0 0 0 0 0 0 0 0 0 0 0 0 0 0 0 0 0 0 0 0 0 0 0 0 0 0"/><feFuncA type="linear" slope="255" intercept="-121.0"/></feComponentTransfer><feComposite operator="in" in2="SourceGraphic"/></filter>
<linearGradient id="gxa" gradientUnits="userSpaceOnUse" x1="132" y1="0" x2="308" y2="0"><stop offset="0.0000" stop-color="#08f0ef"/><stop offset="0.0312" stop-color="#00d1ff"/><stop offset="0.0625" stop-color="#00b2ff"/><stop offset="0.0938" stop-color="#0094ff"/><stop offset="0.1250" stop-color="#0075ff"/><stop offset="0.1562" stop-color="#0057ff"/><stop offset="0.1875" stop-color="#0038ff"/><stop offset="0.2188" stop-color="#0019ff"/><stop offset="0.2500" stop-color="#0000ff"/><stop offset="0.2812" stop-color="#0000e8"/><stop offset="0.3125" stop-color="#0000c5"/><stop offset="0.3438" stop-color="#0000a2"/><stop offset="0.3750" stop-color="#000080"/><stop offset="0.3750" stop-color="#800000"/><stop offset="0.4271" stop-color="#ba0000"/><stop offset="0.4792" stop-color="#f50b00"/><stop offset="0.5312" stop-color="#ff3b00"/><stop offset="0.5833" stop-color="#ff6b00"/><stop offset="0.6354" stop-color="#ff9b00"/><stop offset="0.6875" stop-color="#ffcb00"/><stop offset="0.7396" stop-color="#f2fb05"/><stop offset="0.7917" stop-color="#c8ff2f"/><stop offset="0.8438" stop-color="#9eff58"/><stop offset="0.8958" stop-color="#75ff82"/><stop offset="0.9479" stop-color="#4bffac"/><stop offset="1.0000" stop-color="#21ffd6"/></linearGradient>
<linearGradient id="gxc" gradientUnits="userSpaceOnUse" x1="132" y1="0" x2="308" y2="0"><stop offset="0.0000" stop-color="#3affbd"/><stop offset="0.0375" stop-color="#1dffda"/><stop offset="0.0750" stop-color="#00e5f7"/><stop offset="0.1125" stop-color="#00c2ff"/><stop offset="0.1500" stop-color="#009eff"/><stop offset="0.1875" stop-color="#007aff"/><stop offset="0.2250" stop-color="#0057ff"/><stop offset="0.2625" stop-color="#0033ff"/><stop offset="0.3000" stop-color="#000fff"/><stop offset="0.3375" stop-color="#0000f9"/><stop offset="0.3750" stop-color="#0000d1"/><stop offset="0.4125" stop-color="#0000a8"/><stop offset="0.4500" stop-color="#000080"/><stop offset="0.4500" stop-color="#800000"/><stop offset="0.4958" stop-color="#a90000"/><stop offset="0.5417" stop-color="#d30000"/><stop offset="0.5875" stop-color="#fc1100"/><stop offset="0.6333" stop-color="#ff3200"/><stop offset="0.6792" stop-color="#ff5400"/><stop offset="0.7250" stop-color="#ff7600"/><stop offset="0.7708" stop-color="#ff9800"/><stop offset="0.8167" stop-color="#ffba00"/><stop offset="0.8625" stop-color="#ffdc00"/><stop offset="0.9083" stop-color="#f0fd07"/><stop offset="0.9542" stop-color="#d2ff24"/><stop offset="1.0000" stop-color="#b5ff42"/></linearGradient>
<linearGradient id="gya" gradientUnits="userSpaceOnUse" x1="345" y1="0" x2="520" y2="0"><stop offset="0.0000" stop-color="#efff08"/><stop offset="0.0517" stop-color="#c3ff34"/><stop offset="0.1033" stop-color="#97ff60"/><stop offset="0.1550" stop-color="#6bff8c"/><stop offset="0.2067" stop-color="#3fffb8"/><stop offset="0.2583" stop-color="#13fde4"/><stop offset="0.3100" stop-color="#00c7ff"/><stop offset="0.3617" stop-color="#0090ff"/><stop offset="0.4133" stop-color="#005aff"/><stop offset="0.4650" stop-color="#0024ff"/><stop offset="0.5167" stop-color="#0000fb"/><stop offset="0.5683" stop-color="#0000bd"/><stop offset="0.6200" stop-color="#000080"/><stop offset="0.6200" stop-color="#800000"/><stop offset="0.6517" stop-color="#9b0000"/><stop offset="0.6833" stop-color="#b60000"/><stop offset="0.7150" stop-color="#d10000"/><stop offset="0.7467" stop-color="#ec0300"/><stop offset="0.7783" stop-color="#ff1900"/><stop offset="0.8100" stop-color="#ff2f00"/><stop offset="0.8417" stop-color="#ff4500"/><stop offset="0.8733" stop-color="#ff5b00"/><stop offset="0.9050" stop-color="#ff7100"/><stop offset="0.9367" stop-color="#ff8700"/><stop offset="0.9683" stop-color="#ff9d00"/><stop offset="1.0000" stop-color="#ffb300"/></linearGradient>
<linearGradient id="gyc" gradientUnits="userSpaceOnUse" x1="345" y1="0" x2="520" y2="0"><stop offset="0.0000" stop-color="#f7f600"/><stop offset="0.0525" stop-color="#caff2d"/><stop offset="0.1050" stop-color="#9eff59"/><stop offset="0.1575" stop-color="#71ff86"/><stop offset="0.2100" stop-color="#45ffb2"/><stop offset="0.2625" stop-color="#18ffdf"/><stop offset="0.3150" stop-color="#00ccff"/><stop offset="0.3675" stop-color="#0095ff"/><stop offset="0.4200" stop-color="#005eff"/><stop offset="0.4725" stop-color="#0026ff"/><stop offset="0.5250" stop-color="#0000fd"/><stop offset="0.5775" stop-color="#0000be"/><stop offset="0.6300" stop-color="#000080"/><stop offset="0.6300" stop-color="#800000"/><stop offset="0.6608" stop-color="#990000"/><stop offset="0.6917" stop-color="#b20000"/><stop offset="0.7225" stop-color="#cb0000"/><stop offset="0.7533" stop-color="#e40000"/><stop offset="0.7842" stop-color="#fd1100"/><stop offset="0.8150" stop-color="#ff2600"/><stop offset="0.8458" stop-color="#ff3a00"/><stop offset="0.8767" stop-color="#ff4f00"/><stop offset="0.9075" stop-color="#ff6300"/><stop offset="0.9383" stop-color="#ff7800"/><stop offset="0.9692" stop-color="#ff8c00"/><stop offset="1.0000" stop-color="#ffa100"/></linearGradient>
<linearGradient id="p10" gradientUnits="userSpaceOnUse" x1="132" y1="216" x2="134.40" y2="216.00" spreadMethod="repeat"><stop offset="0.000" stop-color="#000080"/><stop offset="0.083" stop-color="#0000e0"/><stop offset="0.167" stop-color="#002aff"/><stop offset="0.250" stop-color="#0080ff"/><stop offset="0.333" stop-color="#00d4ff"/><stop offset="0.417" stop-color="#37ffc0"/><stop offset="0.500" stop-color="#7bff7b"/><stop offset="0.583" stop-color="#c0ff37"/><stop offset="0.667" stop-color="#ffe600"/><stop offset="0.750" stop-color="#ff9700"/><stop offset="0.833" stop-color="#ff4800"/><stop offset="0.917" stop-color="#e00000"/><stop offset="1.000" stop-color="#800000"/></linearGradient>
<linearGradient id="p20" gradientUnits="userSpaceOnUse" x1="132" y1="218" x2="138.20" y2="220.60" spreadMethod="repeat"><stop offset="0.000" stop-color="#000080"/><stop offset="0.083" stop-color="#0000e0"/><stop offset="0.167" stop-color="#002aff"/><stop offset="0.250" stop-color="#0080ff"/><stop offset="0.333" stop-color="#00d4ff"/><stop offset="0.417" stop-color="#37ffc0"/><stop offset="0.500" stop-color="#7bff7b"/><stop offset="0.583" stop-color="#c0ff37"/><stop offset="0.667" stop-color="#ffe600"/><stop offset="0.750" stop-color="#ff9700"/><stop offset="0.833" stop-color="#ff4800"/><stop offset="0.917" stop-color="#e00000"/><stop offset="1.000" stop-color="#800000"/></linearGradient>
<linearGradient id="p30" gradientUnits="userSpaceOnUse" x1="132" y1="222" x2="176.00" y2="231.00" spreadMethod="repeat"><stop offset="0.000" stop-color="#800000"/><stop offset="0.083" stop-color="#e00000"/><stop offset="0.167" stop-color="#ff4800"/><stop offset="0.250" stop-color="#ff9700"/><stop offset="0.333" stop-color="#ffe600"/><stop offset="0.417" stop-color="#c0ff37"/><stop offset="0.500" stop-color="#7bff7b"/><stop offset="0.583" stop-color="#37ffc0"/><stop offset="0.667" stop-color="#00d5ff"/><stop offset="0.750" stop-color="#0080ff"/><stop offset="0.833" stop-color="#002aff"/><stop offset="0.917" stop-color="#0000e0"/><stop offset="1.000" stop-color="#000080"/></linearGradient>
<linearGradient id="p40" gradientUnits="userSpaceOnUse" x1="132" y1="145" x2="134.13" y2="145.09" spreadMethod="repeat"><stop offset="0.000" stop-color="#000080"/><stop offset="0.083" stop-color="#0000e0"/><stop offset="0.167" stop-color="#002aff"/><stop offset="0.250" stop-color="#0080ff"/><stop offset="0.333" stop-color="#00d4ff"/><stop offset="0.417" stop-color="#37ffc0"/><stop offset="0.500" stop-color="#7bff7b"/><stop offset="0.583" stop-color="#c0ff37"/><stop offset="0.667" stop-color="#ffe600"/><stop offset="0.750" stop-color="#ff9700"/><stop offset="0.833" stop-color="#ff4800"/><stop offset="0.917" stop-color="#e00000"/><stop offset="1.000" stop-color="#800000"/></linearGradient>
<linearGradient id="p50" gradientUnits="userSpaceOnUse" x1="132" y1="327" x2="134.31" y2="326.94" spreadMethod="repeat"><stop offset="0.000" stop-color="#800000"/><stop offset="0.083" stop-color="#e00000"/><stop offset="0.167" stop-color="#ff4800"/><stop offset="0.250" stop-color="#ff9700"/><stop offset="0.333" stop-color="#ffe600"/><stop offset="0.417" stop-color="#c0ff37"/><stop offset="0.500" stop-color="#7bff7b"/><stop offset="0.583" stop-color="#37ffc0"/><stop offset="0.667" stop-color="#00d5ff"/><stop offset="0.750" stop-color="#0080ff"/><stop offset="0.833" stop-color="#002aff"/><stop offset="0.917" stop-color="#0000e0"/><stop offset="1.000" stop-color="#000080"/></linearGradient>
<linearGradient id="p60" gradientUnits="userSpaceOnUse" x1="132" y1="290" x2="134.07" y2="290.21" spreadMethod="repeat"><stop offset="0.000" stop-color="#000080"/><stop offset="0.083" stop-color="#0000e0"/><stop offset="0.167" stop-color="#002aff"/><stop offset="0.250" stop-color="#0080ff"/><stop offset="0.333" stop-color="#00d4ff"/><stop offset="0.417" stop-color="#37ffc0"/><stop offset="0.500" stop-color="#7bff7b"/><stop offset="0.583" stop-color="#c0ff37"/><stop offset="0.667" stop-color="#ffe600"/><stop offset="0.750" stop-color="#ff9700"/><stop offset="0.833" stop-color="#ff4800"/><stop offset="0.917" stop-color="#e00000"/><stop offset="1.000" stop-color="#800000"/></linearGradient>
<linearGradient id="p70" gradientUnits="userSpaceOnUse" x1="132" y1="346" x2="134.02" y2="347.96" spreadMethod="repeat"><stop offset="0.000" stop-color="#800000"/><stop offset="0.083" stop-color="#e00000"/><stop offset="0.167" stop-color="#ff4800"/><stop offset="0.250" stop-color="#ff9700"/><stop offset="0.333" stop-color="#ffe600"/><stop offset="0.417" stop-color="#c0ff37"/><stop offset="0.500" stop-color="#7bff7b"/><stop offset="0.583" stop-color="#37ffc0"/><stop offset="0.667" stop-color="#00d5ff"/><stop offset="0.750" stop-color="#0080ff"/><stop offset="0.833" stop-color="#002aff"/><stop offset="0.917" stop-color="#0000e0"/><stop offset="1.000" stop-color="#000080"/></linearGradient>
<linearGradient id="p11" gradientUnits="userSpaceOnUse" x1="345" y1="216" x2="347.40" y2="216.00" spreadMethod="repeat"><stop offset="0.000" stop-color="#000080"/><stop offset="0.083" stop-color="#0000e0"/><stop offset="0.167" stop-color="#002aff"/><stop offset="0.250" stop-color="#0080ff"/><stop offset="0.333" stop-color="#00d4ff"/><stop offset="0.417" stop-color="#37ffc0"/><stop offset="0.500" stop-color="#7bff7b"/><stop offset="0.583" stop-color="#c0ff37"/><stop offset="0.667" stop-color="#ffe600"/><stop offset="0.750" stop-color="#ff9700"/><stop offset="0.833" stop-color="#ff4800"/><stop offset="0.917" stop-color="#e00000"/><stop offset="1.000" stop-color="#800000"/></linearGradient>
<linearGradient id="p21" gradientUnits="userSpaceOnUse" x1="345" y1="218" x2="351.20" y2="220.60" spreadMethod="repeat"><stop offset="0.000" stop-color="#000080"/><stop offset="0.083" stop-color="#0000e0"/><stop offset="0.167" stop-color="#002aff"/><stop offset="0.250" stop-color="#0080ff"/><stop offset="0.333" stop-color="#00d4ff"/><stop offset="0.417" stop-color="#37ffc0"/><stop offset="0.500" stop-color="#7bff7b"/><stop offset="0.583" stop-color="#c0ff37"/><stop offset="0.667" stop-color="#ffe600"/><stop offset="0.750" stop-color="#ff9700"/><stop offset="0.833" stop-color="#ff4800"/><stop offset="0.917" stop-color="#e00000"/><stop offset="1.000" stop-color="#800000"/></linearGradient>
<linearGradient id="p31" gradientUnits="userSpaceOnUse" x1="345" y1="222" x2="389.00" y2="231.00" spreadMethod="repeat"><stop offset="0.000" stop-color="#800000"/><stop offset="0.083" stop-color="#e00000"/><stop offset="0.167" stop-color="#ff4800"/><stop offset="0.250" stop-color="#ff9700"/><stop offset="0.333" stop-color="#ffe600"/><stop offset="0.417" stop-color="#c0ff37"/><stop offset="0.500" stop-color="#7bff7b"/><stop offset="0.583" stop-color="#37ffc0"/><stop offset="0.667" stop-color="#00d5ff"/><stop offset="0.750" stop-color="#0080ff"/><stop offset="0.833" stop-color="#002aff"/><stop offset="0.917" stop-color="#0000e0"/><stop offset="1.000" stop-color="#000080"/></linearGradient>
<linearGradient id="p41" gradientUnits="userSpaceOnUse" x1="345" y1="145" x2="347.13" y2="145.09" spreadMethod="repeat"><stop offset="0.000" stop-color="#000080"/><stop offset="0.083" stop-color="#0000e0"/><stop offset="0.167" stop-color="#002aff"/><stop offset="0.250" stop-color="#0080ff"/><stop offset="0.333" stop-color="#00d4ff"/><stop offset="0.417" stop-color="#37ffc0"/><stop offset="0.500" stop-color="#7bff7b"/><stop offset="0.583" stop-color="#c0ff37"/><stop offset="0.667" stop-color="#ffe600"/><stop offset="0.750" stop-color="#ff9700"/><stop offset="0.833" stop-color="#ff4800"/><stop offset="0.917" stop-color="#e00000"/><stop offset="1.000" stop-color="#800000"/></linearGradient>
<linearGradient id="p51" gradientUnits="userSpaceOnUse" x1="345" y1="327" x2="347.31" y2="326.94" spreadMethod="repeat"><stop offset="0.000" stop-color="#800000"/><stop offset="0.083" stop-color="#e00000"/><stop offset="0.167" stop-color="#ff4800"/><stop offset="0.250" stop-color="#ff9700"/><stop offset="0.333" stop-color="#ffe600"/><stop offset="0.417" stop-color="#c0ff37"/><stop offset="0.500" stop-color="#7bff7b"/><stop offset="0.583" stop-color="#37ffc0"/><stop offset="0.667" stop-color="#00d5ff"/><stop offset="0.750" stop-color="#0080ff"/><stop offset="0.833" stop-color="#002aff"/><stop offset="0.917" stop-color="#0000e0"/><stop offset="1.000" stop-color="#000080"/></linearGradient>
<linearGradient id="p61" gradientUnits="userSpaceOnUse" x1="345" y1="290" x2="347.07" y2="290.21" spreadMethod="repeat"><stop offset="0.000" stop-color="#000080"/><stop offset="0.083" stop-color="#0000e0"/><stop offset="0.167" stop-color="#002aff"/><stop offset="0.250" stop-color="#0080ff"/><stop offset="0.333" stop-color="#00d4ff"/><stop offset="0.417" stop-color="#37ffc0"/><stop offset="0.500" stop-color="#7bff7b"/><stop offset="0.583" stop-color="#c0ff37"/><stop offset="0.667" stop-color="#ffe600"/><stop offset="0.750" stop-color="#ff9700"/><stop offset="0.833" stop-color="#ff4800"/><stop offset="0.917" stop-color="#e00000"/><stop offset="1.000" stop-color="#800000"/></linearGradient>
<linearGradient id="p71" gradientUnits="userSpaceOnUse" x1="345" y1="346" x2="347.02" y2="347.96" spreadMethod="repeat"><stop offset="0.000" stop-color="#800000"/><stop offset="0.083" stop-color="#e00000"/><stop offset="0.167" stop-color="#ff4800"/><stop offset="0.250" stop-color="#ff9700"/><stop offset="0.333" stop-color="#ffe600"/><stop offset="0.417" stop-color="#c0ff37"/><stop offset="0.500" stop-color="#7bff7b"/><stop offset="0.583" stop-color="#37ffc0"/><stop offset="0.667" stop-color="#00d5ff"/><stop offset="0.750" stop-color="#0080ff"/><stop offset="0.833" stop-color="#002aff"/><stop offset="0.917" stop-color="#0000e0"/><stop offset="1.000" stop-color="#000080"/></linearGradient>
<linearGradient id="p12" gradientUnits="userSpaceOnUse" x1="557" y1="216" x2="559.40" y2="216.00" spreadMethod="repeat"><stop offset="0.000" stop-color="#000080"/><stop offset="0.083" stop-color="#0000e0"/><stop offset="0.167" stop-color="#002aff"/><stop offset="0.250" stop-color="#0080ff"/><stop offset="0.333" stop-color="#00d4ff"/><stop offset="0.417" stop-color="#37ffc0"/><stop offset="0.500" stop-color="#7bff7b"/><stop offset="0.583" stop-color="#c0ff37"/><stop offset="0.667" stop-color="#ffe600"/><stop offset="0.750" stop-color="#ff9700"/><stop offset="0.833" stop-color="#ff4800"/><stop offset="0.917" stop-color="#e00000"/><stop offset="1.000" stop-color="#800000"/></linearGradient>
<linearGradient id="p22" gradientUnits="userSpaceOnUse" x1="557" y1="218" x2="563.20" y2="220.60" spreadMethod="repeat"><stop offset="0.000" stop-color="#000080"/><stop offset="0.083" stop-color="#0000e0"/><stop offset="0.167" stop-color="#002aff"/><stop offset="0.250" stop-color="#0080ff"/><stop offset="0.333" stop-color="#00d4ff"/><stop offset="0.417" stop-color="#37ffc0"/><stop offset="0.500" stop-color="#7bff7b"/><stop offset="0.583" stop-color="#c0ff37"/><stop offset="0.667" stop-color="#ffe600"/><stop offset="0.750" stop-color="#ff9700"/><stop offset="0.833" stop-color="#ff4800"/><stop offset="0.917" stop-color="#e00000"/><stop offset="1.000" stop-color="#800000"/></linearGradient>
<linearGradient id="p32" gradientUnits="userSpaceOnUse" x1="557" y1="222" x2="601.00" y2="231.00" spreadMethod="repeat"><stop offset="0.000" stop-color="#800000"/><stop offset="0.083" stop-color="#e00000"/><stop offset="0.167" stop-color="#ff4800"/><stop offset="0.250" stop-color="#ff9700"/><stop offset="0.333" stop-color="#ffe600"/><stop offset="0.417" stop-color="#c0ff37"/><stop offset="0.500" stop-color="#7bff7b"/><stop offset="0.583" stop-color="#37ffc0"/><stop offset="0.667" stop-color="#00d5ff"/><stop offset="0.750" stop-color="#0080ff"/><stop offset="0.833" stop-color="#002aff"/><stop offset="0.917" stop-color="#0000e0"/><stop offset="1.000" stop-color="#000080"/></linearGradient>
<linearGradient id="p42" gradientUnits="userSpaceOnUse" x1="557" y1="145" x2="559.13" y2="145.09" spreadMethod="repeat"><stop offset="0.000" stop-color="#000080"/><stop offset="0.083" stop-color="#0000e0"/><stop offset="0.167" stop-color="#002aff"/><stop offset="0.250" stop-color="#0080ff"/><stop offset="0.333" stop-color="#00d4ff"/><stop offset="0.417" stop-color="#37ffc0"/><stop offset="0.500" stop-color="#7bff7b"/><stop offset="0.583" stop-color="#c0ff37"/><stop offset="0.667" stop-color="#ffe600"/><stop offset="0.750" stop-color="#ff9700"/><stop offset="0.833" stop-color="#ff4800"/><stop offset="0.917" stop-color="#e00000"/><stop offset="1.000" stop-color="#800000"/></linearGradient>
<linearGradient id="p52" gradientUnits="userSpaceOnUse" x1="557" y1="327" x2="559.31" y2="326.94" spreadMethod="repeat"><stop offset="0.000" stop-color="#800000"/><stop offset="0.083" stop-color="#e00000"/><stop offset="0.167" stop-color="#ff4800"/><stop offset="0.250" stop-color="#ff9700"/><stop offset="0.333" stop-color="#ffe600"/><stop offset="0.417" stop-color="#c0ff37"/><stop offset="0.500" stop-color="#7bff7b"/><stop offset="0.583" stop-color="#37ffc0"/><stop offset="0.667" stop-color="#00d5ff"/><stop offset="0.750" stop-color="#0080ff"/><stop offset="0.833" stop-color="#002aff"/><stop offset="0.917" stop-color="#0000e0"/><stop offset="1.000" stop-color="#000080"/></linearGradient>
<linearGradient id="p62" gradientUnits="userSpaceOnUse" x1="557" y1="290" x2="559.07" y2="290.21" spreadMethod="repeat"><stop offset="0.000" stop-color="#000080"/><stop offset="0.083" stop-color="#0000e0"/><stop offset="0.167" stop-color="#002aff"/><stop offset="0.250" stop-color="#0080ff"/><stop offset="0.333" stop-color="#00d4ff"/><stop offset="0.417" stop-color="#37ffc0"/><stop offset="0.500" stop-color="#7bff7b"/><stop offset="0.583" stop-color="#c0ff37"/><stop offset="0.667" stop-color="#ffe600"/><stop offset="0.750" stop-color="#ff9700"/><stop offset="0.833" stop-color="#ff4800"/><stop offset="0.917" stop-color="#e00000"/><stop offset="1.000" stop-color="#800000"/></linearGradient>
<linearGradient id="p72" gradientUnits="userSpaceOnUse" x1="557" y1="346" x2="559.02" y2="347.96" spreadMethod="repeat"><stop offset="0.000" stop-color="#800000"/><stop offset="0.083" stop-color="#e00000"/><stop offset="0.167" stop-color="#ff4800"/><stop offset="0.250" stop-color="#ff9700"/><stop offset="0.333" stop-color="#ffe600"/><stop offset="0.417" stop-color="#c0ff37"/><stop offset="0.500" stop-color="#7bff7b"/><stop offset="0.583" stop-color="#37ffc0"/><stop offset="0.667" stop-color="#00d5ff"/><stop offset="0.750" stop-color="#0080ff"/><stop offset="0.833" stop-color="#002aff"/><stop offset="0.917" stop-color="#0000e0"/><stop offset="1.000" stop-color="#000080"/></linearGradient>
<linearGradient id="p13" gradientUnits="userSpaceOnUse" x1="769" y1="216" x2="771.40" y2="216.00" spreadMethod="repeat"><stop offset="0.000" stop-color="#000080"/><stop offset="0.083" stop-color="#0000e0"/><stop offset="0.167" stop-color="#002aff"/><stop offset="0.250" stop-color="#0080ff"/><stop offset="0.333" stop-color="#00d4ff"/><stop offset="0.417" stop-color="#37ffc0"/><stop offset="0.500" stop-color="#7bff7b"/><stop offset="0.583" stop-color="#c0ff37"/><stop offset="0.667" stop-color="#ffe600"/><stop offset="0.750" stop-color="#ff9700"/><stop offset="0.833" stop-color="#ff4800"/><stop offset="0.917" stop-color="#e00000"/><stop offset="1.000" stop-color="#800000"/></linearGradient>
<linearGradient id="p23" gradientUnits="userSpaceOnUse" x1="769" y1="218" x2="775.20" y2="220.60" spreadMethod="repeat"><stop offset="0.000" stop-color="#000080"/><stop offset="0.083" stop-color="#0000e0"/><stop offset="0.167" stop-color="#002aff"/><stop offset="0.250" stop-color="#0080ff"/><stop offset="0.333" stop-color="#00d4ff"/><stop offset="0.417" stop-color="#37ffc0"/><stop offset="0.500" stop-color="#7bff7b"/><stop offset="0.583" stop-color="#c0ff37"/><stop offset="0.667" stop-color="#ffe600"/><stop offset="0.750" stop-color="#ff9700"/><stop offset="0.833" stop-color="#ff4800"/><stop offset="0.917" stop-color="#e00000"/><stop offset="1.000" stop-color="#800000"/></linearGradient>
<linearGradient id="p33" gradientUnits="userSpaceOnUse" x1="769" y1="222" x2="813.00" y2="231.00" spreadMethod="repeat"><stop offset="0.000" stop-color="#800000"/><stop offset="0.083" stop-color="#e00000"/><stop offset="0.167" stop-color="#ff4800"/><stop offset="0.250" stop-color="#ff9700"/><stop offset="0.333" stop-color="#ffe600"/><stop offset="0.417" stop-color="#c0ff37"/><stop offset="0.500" stop-color="#7bff7b"/><stop offset="0.583" stop-color="#37ffc0"/><stop offset="0.667" stop-color="#00d5ff"/><stop offset="0.750" stop-color="#0080ff"/><stop offset="0.833" stop-color="#002aff"/><stop offset="0.917" stop-color="#0000e0"/><stop offset="1.000" stop-color="#000080"/></linearGradient>
<linearGradient id="p43" gradientUnits="userSpaceOnUse" x1="769" y1="145" x2="771.13" y2="145.09" spreadMethod="repeat"><stop offset="0.000" stop-color="#000080"/><stop offset="0.083" stop-color="#0000e0"/><stop offset="0.167" stop-color="#002aff"/><stop offset="0.250" stop-color="#0080ff"/><stop offset="0.333" stop-color="#00d4ff"/><stop offset="0.417" stop-color="#37ffc0"/><stop offset="0.500" stop-color="#7bff7b"/><stop offset="0.583" stop-color="#c0ff37"/><stop offset="0.667" stop-color="#ffe600"/><stop offset="0.750" stop-color="#ff9700"/><stop offset="0.833" stop-color="#ff4800"/><stop offset="0.917" stop-color="#e00000"/><stop offset="1.000" stop-color="#800000"/></linearGradient>
<linearGradient id="p53" gradientUnits="userSpaceOnUse" x1="769" y1="327" x2="771.31" y2="326.94" spreadMethod="repeat"><stop offset="0.000" stop-color="#800000"/><stop offset="0.083" stop-color="#e00000"/><stop offset="0.167" stop-color="#ff4800"/><stop offset="0.250" stop-color="#ff9700"/><stop offset="0.333" stop-color="#ffe600"/><stop offset="0.417" stop-color="#c0ff37"/><stop offset="0.500" stop-color="#7bff7b"/><stop offset="0.583" stop-color="#37ffc0"/><stop offset="0.667" stop-color="#00d5ff"/><stop offset="0.750" stop-color="#0080ff"/><stop offset="0.833" stop-color="#002aff"/><stop offset="0.917" stop-color="#0000e0"/><stop offset="1.000" stop-color="#000080"/></linearGradient>
<linearGradient id="p63" gradientUnits="userSpaceOnUse" x1="769" y1="290" x2="771.07" y2="290.21" spreadMethod="repeat"><stop offset="0.000" stop-color="#000080"/><stop offset="0.083" stop-color="#0000e0"/><stop offset="0.167" stop-color="#002aff"/><stop offset="0.250" stop-color="#0080ff"/><stop offset="0.333" stop-color="#00d4ff"/><stop offset="0.417" stop-color="#37ffc0"/><stop offset="0.500" stop-color="#7bff7b"/><stop offset="0.583" stop-color="#c0ff37"/><stop offset="0.667" stop-color="#ffe600"/><stop offset="0.750" stop-color="#ff9700"/><stop offset="0.833" stop-color="#ff4800"/><stop offset="0.917" stop-color="#e00000"/><stop offset="1.000" stop-color="#800000"/></linearGradient>
<linearGradient id="p73" gradientUnits="userSpaceOnUse" x1="769" y1="346" x2="771.02" y2="347.96" spreadMethod="repeat"><stop offset="0.000" stop-color="#800000"/><stop offset="0.083" stop-color="#e00000"/><stop offset="0.167" stop-color="#ff4800"/><stop offset="0.250" stop-color="#ff9700"/><stop offset="0.333" stop-color="#ffe600"/><stop offset="0.417" stop-color="#c0ff37"/><stop offset="0.500" stop-color="#7bff7b"/><stop offset="0.583" stop-color="#37ffc0"/><stop offset="0.667" stop-color="#00d5ff"/><stop offset="0.750" stop-color="#0080ff"/><stop offset="0.833" stop-color="#002aff"/><stop offset="0.917" stop-color="#0000e0"/><stop offset="1.000" stop-color="#000080"/></linearGradient>
<linearGradient id="fx" gradientUnits="userSpaceOnUse" x1="132" y1="388" x2="132.58" y2="393.27" spreadMethod="repeat"><stop offset="0.000" stop-color="#000080"/><stop offset="0.083" stop-color="#0000e0"/><stop offset="0.167" stop-color="#002aff"/><stop offset="0.250" stop-color="#0080ff"/><stop offset="0.333" stop-color="#00d4ff"/><stop offset="0.417" stop-color="#37ffc0"/><stop offset="0.500" stop-color="#7bff7b"/><stop offset="0.583" stop-color="#c0ff37"/><stop offset="0.667" stop-color="#ffe600"/><stop offset="0.750" stop-color="#ff9700"/><stop offset="0.833" stop-color="#ff4800"/><stop offset="0.917" stop-color="#e00000"/><stop offset="1.000" stop-color="#800000"/></linearGradient>
<linearGradient id="fy" gradientUnits="userSpaceOnUse" x1="345" y1="389.5" x2="345.58" y2="394.77" spreadMethod="repeat"><stop offset="0.000" stop-color="#000080"/><stop offset="0.083" stop-color="#0000e0"/><stop offset="0.167" stop-color="#002aff"/><stop offset="0.250" stop-color="#0080ff"/><stop offset="0.333" stop-color="#00d4ff"/><stop offset="0.417" stop-color="#37ffc0"/><stop offset="0.500" stop-color="#7bff7b"/><stop offset="0.583" stop-color="#c0ff37"/><stop offset="0.667" stop-color="#ffe600"/><stop offset="0.750" stop-color="#ff9700"/><stop offset="0.833" stop-color="#ff4800"/><stop offset="0.917" stop-color="#e00000"/><stop offset="1.000" stop-color="#800000"/></linearGradient>
<linearGradient id="cb" x1="0" y1="0" x2="0" y2="1"><stop offset="0.0000" stop-color="#800000"/><stop offset="0.0417" stop-color="#b00000"/><stop offset="0.0833" stop-color="#e00000"/><stop offset="0.1250" stop-color="#ff2100"/><stop offset="0.1667" stop-color="#ff4800"/><stop offset="0.2083" stop-color="#ff7000"/><stop offset="0.2500" stop-color="#ff9700"/><stop offset="0.2917" stop-color="#ffbe00"/><stop offset="0.3333" stop-color="#ffe600"/><stop offset="0.3750" stop-color="#e2ff15"/><stop offset="0.4167" stop-color="#c0ff37"/><stop offset="0.4583" stop-color="#9eff59"/><stop offset="0.5000" stop-color="#7bff7b"/><stop offset="0.5417" stop-color="#59ff9e"/><stop offset="0.5833" stop-color="#37ffc0"/><stop offset="0.6250" stop-color="#15ffe2"/><stop offset="0.6667" stop-color="#00d5ff"/><stop offset="0.7083" stop-color="#00aaff"/><stop offset="0.7500" stop-color="#0080ff"/><stop offset="0.7917" stop-color="#0055ff"/><stop offset="0.8333" stop-color="#002aff"/><stop offset="0.8750" stop-color="#0000ff"/><stop offset="0.9167" stop-color="#0000e0"/><stop offset="0.9583" stop-color="#0000b0"/><stop offset="1.0000" stop-color="#000080"/></linearGradient>
</defs>
<g id="panel0">
<rect x="132" y="81" width="176" height="639" filter="url(#nz0)"/>
<rect x="132" y="216" width="176" height="1" fill="url(#p10)"/>
<rect x="132" y="218" width="176" height="3" fill="url(#p20)"/>
<rect x="132" y="222" width="176" height="3" fill="url(#p30)"/>
<rect x="241" y="145" width="58" height="5" fill="url(#p40)"/>
<rect x="244" y="325" width="50" height="14" fill="url(#p50)"/>
<rect x="241" y="290" width="60" height="11" fill="url(#p60)"/>
<rect x="244" y="345" width="56" height="14" fill="url(#p70)"/>
<path filter="url(#nq0)" d="M132 216h176v1h-176zM132 218h176v3h-176zM241 145h58v5h-58z"/>
<path filter="url(#nh0)" d="M244 325h50v14h-50zM241 290h60v11h-60zM244 345h56v14h-56z"/>
<rect x="132" y="145" width="111" height="7" fill="url(#gxa)"/>
<rect x="132" y="153" width="111" height="2" fill="url(#gxa)"/>
<rect x="132" y="160" width="176" height="2" fill="url(#gxa)"/>
<rect x="132" y="163" width="111" height="2" fill="url(#gxa)"/>
<rect x="132" y="172" width="176" height="2" fill="url(#gxa)"/>
<rect x="132" y="175" width="111" height="5" fill="url(#gxa)"/>
<rect x="132" y="190" width="176" height="2" fill="url(#gxa)"/>
<rect x="132" y="193" width="111" height="4" fill="url(#gxa)"/>
<rect x="132" y="201" width="176" height="2" fill="url(#gxa)"/>
<rect x="132" y="204" width="111" height="8" fill="url(#gxa)"/>
<rect x="132" y="213" width="176" height="2" fill="url(#gxa)"/>
<rect x="132" y="236" width="176" height="1" fill="url(#gxc)"/>
<rect x="132" y="240" width="176" height="3" fill="url(#gxc)"/>
<rect x="132" y="244" width="176" height="1" fill="url(#gxc)"/>
<rect x="132" y="311" width="111" height="4" fill="url(#gxa)"/>
<rect x="132" y="315" width="176" height="3" fill="url(#gxa)"/>
<rect x="132" y="383" width="176" height="2" fill="url(#gxa)"/>
<rect x="132" y="388" width="111" height="15" fill="url(#fx)"/>
<rect x="132" y="405" width="176" height="4" fill="url(#gxa)"/>
<rect x="132" y="410" width="176" height="2" fill="url(#gxa)"/>
<rect x="132" y="416" width="176" height="2" fill="url(#gxa)"/>
<rect x="132" y="418" width="176" height="2" fill="url(#gxa)"/>
<rect x="132" y="457" width="176" height="4" fill="url(#gxa)"/>
<rect x="132" y="463" width="176" height="4" fill="url(#gxa)"/>
<rect x="132" y="538" width="176" height="3" fill="url(#gxa)"/>
<rect x="132" y="655" width="176" height="3" fill="url(#gxa)"/>
<rect x="132" y="717" width="176" height="1" fill="url(#gxa)"/>
<path filter="url(#ns0)" d="M132 160h111v2h-111zM132 172h111v2h-111zM132 190h111v2h-111zM132 201h111v2h-111zM132 213h111v2h-111zM132 315h176v3h-176zM132 383h111v2h-111zM132 410h111v2h-111zM132 416h111v2h-111zM132 457h111v4h-111zM132 463h111v4h-111zM132 538h111v3h-111zM132 655h176v3h-176zM132 717h176v1h-176z"/>
<path filter="url(#nq0)" d="M132 388h111v15h-111zM132 405h111v4h-111zM132 418h111v2h-111z"/>
<path filter="url(#nh0)" d="M132 145h111v7h-111zM132 153h111v2h-111zM132 163h111v2h-111zM132 175h111v5h-111zM132 193h111v4h-111zM132 204h111v8h-111zM132 311h111v4h-111z"/>
<path filter="url(#nd0)" d="M243 160h65v2h-65zM243 172h65v2h-65zM243 190h65v2h-65zM243 201h65v2h-65zM243 213h65v2h-65zM243 383h65v2h-65zM243 405h65v4h-65zM243 410h65v2h-65zM243 416h65v2h-65zM243 418h65v2h-65zM243 457h65v4h-65zM243 463h65v4h-65zM243 538h65v3h-65z"/>
<path d="M132 81h176v54h-176zM132 136h176v1h-176zM132 142h176v3h-176zM132 156h176v1h-176zM132 186h176v1h-176zM132 197h176v2h-176zM132 221h176v1h-176zM132 227h176v4h-176zM132 237h176v3h-176zM132 243h176v1h-176zM132 245h176v2h-176zM132 249h176v1h-176zM132 252h176v1h-176zM132 260h176v1h-176zM132 263h176v1h-176zM132 286h176v1h-176zM132 289h176v1h-176zM132 301h176v1h-176zM132 304h176v1h-176zM132 307h176v1h-176zM132 310h176v1h-176zM132 323h176v1h-176zM132 342h176v1h-176zM132 364h176v1h-176zM132 382h176v1h-176zM132 385h176v3h-176zM132 409h176v1h-176zM132 412h176v3h-176zM132 420h176v3h-176zM132 461h176v2h-176zM132 522h176v1h-176zM132 529h176v1h-176zM132 533h176v1h-176zM132 542h176v1h-176zM132 544h176v1h-176zM132 563h176v1h-176zM132 568h176v1h-176zM132 590h176v1h-176zM132 593h176v6h-176zM132 603h176v1h-176zM132 630h176v1h-176zM132 639h176v1h-176zM132 659h176v2h-176zM132 664h176v1h-176zM132 679h176v2h-176zM132 707h176v6h-176zM132 714h176v1h-176zM132 716h176v1h-176zM132 718h176v1h-176z" fill="#fff"/><path d="M132 138h176v1h-176zM132 140h176v1h-176zM132 152h176v1h-176zM132 155h176v1h-176zM132 158h176v2h-176zM132 162h176v1h-176zM132 165h176v2h-176zM132 169h176v3h-176zM132 174h176v1h-176zM132 180h176v2h-176zM132 184h176v2h-176zM132 188h176v2h-176zM132 192h176v1h-176zM132 200h176v1h-176zM132 203h176v1h-176zM132 212h176v1h-176zM132 215h176v1h-176zM132 217h176v1h-176zM132 226h176v1h-176zM132 235h176v1h-176zM132 259h176v1h-176zM132 306h176v1h-176zM132 318h176v2h-176zM132 365h176v1h-176zM132 368h176v1h-176zM132 378h176v4h-176zM132 403h176v1h-176zM132 456h176v1h-176zM132 467h176v2h-176zM132 496h176v1h-176zM132 537h176v1h-176zM132 541h176v1h-176zM132 543h176v1h-176zM132 545h176v18h-176zM132 564h176v4h-176zM132 569h176v21h-176zM132 591h176v2h-176zM132 599h176v4h-176zM132 604h176v26h-176zM132 631h176v8h-176zM132 640h176v15h-176zM132 658h176v1h-176zM132 668h176v1h-176zM132 675h176v3h-176zM132 681h176v2h-176zM132 696h176v1h-176zM132 698h176v1h-176zM132 715h176v1h-176z" fill="#000"/>
<rect x="131.5" y="80.5" width="177" height="640" fill="none" stroke="#000" stroke-width="1"/>
<path d="M173.5 81v5.5M173.5 720v-5.5M214.5 81v5.5M214.5 720v-5.5M256.5 81v5.5M256.5 720v-5.5M298.5 81v5.5M298.5 720v-5.5M132 586.5h5.5M308 586.5h-5.5M132 453.5h5.5M308 453.5h-5.5M132 320.5h5.5M308 320.5h-5.5M132 186.5h5.5M308 186.5h-5.5" stroke="#000" stroke-width="1" opacity="0.8" fill="none"/>
<text x="220.4" y="73" font-size="15" text-anchor="middle">XX, V1*V4=EA10*EA05</text>
<text x="131.3" y="736" font-size="11.85" text-anchor="middle">320</text>
<text x="172.9" y="736" font-size="11.85" text-anchor="middle">335</text>
<text x="214.5" y="736" font-size="11.85" text-anchor="middle">350</text>
<text x="256.2" y="736" font-size="11.85" text-anchor="middle">365</text>
<text x="297.8" y="736" font-size="11.85" text-anchor="middle">380</text>
<text x="126.6" y="724" font-size="12" text-anchor="end">0</text>
<text x="126.6" y="591" font-size="12" text-anchor="end">5</text>
<text x="126.6" y="457" font-size="12" text-anchor="end">10</text>
<text x="126.6" y="324" font-size="12" text-anchor="end">15</text>
<text x="126.6" y="191" font-size="12" text-anchor="end">20</text>
</g>
<g id="panel1">
<rect x="345" y="81" width="175" height="639" filter="url(#nz1)"/>
<rect x="345" y="216" width="175" height="1" fill="url(#p11)"/>
<rect x="345" y="218" width="175" height="3" fill="url(#p21)"/>
<rect x="345" y="222" width="175" height="3" fill="url(#p31)"/>
<rect x="453" y="145" width="58" height="5" fill="url(#p41)"/>
<rect x="457" y="325" width="50" height="14" fill="url(#p51)"/>
<rect x="453" y="290" width="60" height="11" fill="url(#p61)"/>
<rect x="457" y="345" width="56" height="14" fill="url(#p71)"/>
<path filter="url(#nq1)" d="M345 216h175v1h-175zM345 218h175v3h-175zM453 145h58v5h-58z"/>
<path filter="url(#nh1)" d="M457 325h50v14h-50zM453 290h60v11h-60zM457 345h56v14h-56z"/>
<rect x="345" y="145" width="108" height="7" fill="url(#gya)"/>
<rect x="345" y="153" width="108" height="2" fill="url(#gya)"/>
<rect x="345" y="160" width="175" height="2" fill="url(#gya)"/>
<rect x="345" y="163" width="108" height="2" fill="url(#gya)"/>
<rect x="345" y="172" width="175" height="2" fill="url(#gya)"/>
<rect x="345" y="175" width="108" height="5" fill="url(#gya)"/>
<rect x="345" y="190" width="175" height="2" fill="url(#gya)"/>
<rect x="345" y="193" width="108" height="4" fill="url(#gya)"/>
<rect x="345" y="201" width="175" height="2" fill="url(#gya)"/>
<rect x="345" y="204" width="108" height="8" fill="url(#gya)"/>
<rect x="345" y="213" width="175" height="2" fill="url(#gya)"/>
<rect x="345" y="236" width="175" height="1" fill="url(#gyc)"/>
<rect x="345" y="240" width="175" height="3" fill="url(#gyc)"/>
<rect x="345" y="244" width="175" height="1" fill="url(#gyc)"/>
<rect x="345" y="311" width="108" height="4" fill="url(#gya)"/>
<rect x="345" y="315" width="175" height="3" fill="url(#gya)"/>
<rect x="345" y="383" width="175" height="2" fill="url(#gya)"/>
<rect x="345" y="388" width="108" height="15" fill="url(#fy)"/>
<rect x="345" y="405" width="175" height="4" fill="url(#gya)"/>
<rect x="345" y="410" width="175" height="2" fill="url(#gya)"/>
<rect x="345" y="416" width="175" height="2" fill="url(#gya)"/>
<rect x="345" y="418" width="175" height="2" fill="url(#gya)"/>
<rect x="345" y="457" width="175" height="4" fill="url(#gya)"/>
<rect x="345" y="463" width="175" height="4" fill="url(#gya)"/>
<rect x="345" y="538" width="175" height="3" fill="url(#gya)"/>
<rect x="345" y="655" width="175" height="3" fill="url(#gya)"/>
<rect x="345" y="717" width="175" height="1" fill="url(#gya)"/>
<path filter="url(#ns1)" d="M345 160h108v2h-108zM345 172h108v2h-108zM345 190h108v2h-108zM345 201h108v2h-108zM345 213h108v2h-108zM345 315h175v3h-175zM345 383h108v2h-108zM345 410h108v2h-108zM345 416h108v2h-108zM345 457h108v4h-108zM345 463h108v4h-108zM345 538h108v3h-108zM345 655h175v3h-175zM345 717h175v1h-175z"/>
<path filter="url(#nq1)" d="M345 388h108v15h-108zM345 405h108v4h-108zM345 418h108v2h-108zM453 236h67v1h-67zM453 240h67v3h-67zM453 244h67v1h-67z"/>
<path filter="url(#nh1)" d="M345 145h108v7h-108zM345 153h108v2h-108zM345 163h108v2h-108zM345 175h108v5h-108zM345 193h108v4h-108zM345 204h108v8h-108zM345 311h108v4h-108z"/>
<path filter="url(#nd1)" d="M453 160h67v2h-67zM453 172h67v2h-67zM453 190h67v2h-67zM453 201h67v2h-67zM453 213h67v2h-67zM453 383h67v2h-67zM453 405h67v4h-67zM453 410h67v2h-67zM453 416h67v2h-67zM453 418h67v2h-67zM453 457h67v4h-67zM453 463h67v4h-67zM453 538h67v3h-67z"/>
<path d="M345 81h175v54h-175zM345 136h175v1h-175zM345 142h175v3h-175zM345 156h175v1h-175zM345 186h175v1h-175zM345 197h175v2h-175zM345 221h175v1h-175zM345 227h175v4h-175zM345 237h175v3h-175zM345 243h175v1h-175zM345 245h175v2h-175zM345 249h175v1h-175zM345 252h175v1h-175zM345 260h175v1h-175zM345 263h175v1h-175zM345 286h175v1h-175zM345 289h175v1h-175zM345 301h175v1h-175zM345 304h175v1h-175zM345 307h175v1h-175zM345 310h175v1h-175zM345 323h175v1h-175zM345 342h175v1h-175zM345 364h175v1h-175zM345 382h175v1h-175zM345 385h175v3h-175zM345 409h175v1h-175zM345 412h175v3h-175zM345 420h175v3h-175zM345 461h175v2h-175zM345 522h175v1h-175zM345 529h175v1h-175zM345 533h175v1h-175zM345 542h175v1h-175zM345 544h175v1h-175zM345 563h175v1h-175zM345 568h175v1h-175zM345 590h175v1h-175zM345 593h175v6h-175zM345 603h175v1h-175zM345 630h175v1h-175zM345 639h175v1h-175zM345 659h175v2h-175zM345 664h175v1h-175zM345 679h175v2h-175zM345 707h175v6h-175zM345 714h175v1h-175zM345 716h175v1h-175zM345 718h175v1h-175z" fill="#fff"/><path d="M345 138h175v1h-175zM345 140h175v1h-175zM345 152h175v1h-175zM345 155h175v1h-175zM345 158h175v2h-175zM345 162h175v1h-175zM345 165h175v2h-175zM345 169h175v3h-175zM345 174h175v1h-175zM345 180h175v2h-175zM345 184h175v2h-175zM345 188h175v2h-175zM345 192h175v1h-175zM345 200h175v1h-175zM345 203h175v1h-175zM345 212h175v1h-175zM345 215h175v1h-175zM345 217h175v1h-175zM345 226h175v1h-175zM345 235h175v1h-175zM345 259h175v1h-175zM345 306h175v1h-175zM345 318h175v2h-175zM345 365h175v1h-175zM345 368h175v1h-175zM345 378h175v4h-175zM345 403h175v1h-175zM345 456h175v1h-175zM345 467h175v2h-175zM345 496h175v1h-175zM345 537h175v1h-175zM345 541h175v1h-175zM345 543h175v1h-175zM345 545h175v18h-175zM345 564h175v4h-175zM345 569h175v21h-175zM345 591h175v2h-175zM345 599h175v4h-175zM345 604h175v26h-175zM345 631h175v8h-175zM345 640h175v15h-175zM345 658h175v1h-175zM345 668h175v1h-175zM345 675h175v3h-175zM345 681h175v2h-175zM345 696h175v1h-175zM345 698h175v1h-175zM345 715h175v1h-175z" fill="#000"/>
<rect x="344.5" y="80.5" width="176" height="640" fill="none" stroke="#000" stroke-width="1"/>
<path d="M385.5 81v5.5M385.5 720v-5.5M427.5 81v5.5M427.5 720v-5.5M468.5 81v5.5M468.5 720v-5.5M510.5 81v5.5M510.5 720v-5.5M345 586.5h5.5M520 586.5h-5.5M345 453.5h5.5M520 453.5h-5.5M345 320.5h5.5M520 320.5h-5.5M345 186.5h5.5M520 186.5h-5.5" stroke="#000" stroke-width="1" opacity="0.8" fill="none"/>
<text x="432.9" y="73" font-size="15" text-anchor="middle">YY, V1*V4=EA10*EA05</text>
<text x="343.6" y="736" font-size="11.85" text-anchor="middle">320</text>
<text x="385.2" y="736" font-size="11.85" text-anchor="middle">335</text>
<text x="426.8" y="736" font-size="11.85" text-anchor="middle">350</text>
<text x="468.4" y="736" font-size="11.85" text-anchor="middle">365</text>
<text x="510.0" y="736" font-size="11.85" text-anchor="middle">380</text>
<text x="339.6" y="724" font-size="12" text-anchor="end">0</text>
<text x="339.6" y="591" font-size="12" text-anchor="end">5</text>
<text x="339.6" y="457" font-size="12" text-anchor="end">10</text>
<text x="339.6" y="324" font-size="12" text-anchor="end">15</text>
<text x="339.6" y="191" font-size="12" text-anchor="end">20</text>
</g>
<g id="panel2">
<rect x="557" y="81" width="176" height="639" filter="url(#nz2)"/>
<rect x="557" y="216" width="176" height="1" fill="url(#p12)"/>
<rect x="557" y="218" width="176" height="3" fill="url(#p22)"/>
<rect x="557" y="222" width="176" height="3" fill="url(#p32)"/>
<rect x="666" y="145" width="58" height="5" fill="url(#p42)"/>
<rect x="669" y="325" width="50" height="14" fill="url(#p52)"/>
<rect x="666" y="290" width="60" height="11" fill="url(#p62)"/>
<rect x="669" y="345" width="56" height="14" fill="url(#p72)"/>
<path filter="url(#nq2)" d="M557 216h176v1h-176zM557 218h176v3h-176zM666 145h58v5h-58z"/>
<path filter="url(#nh2)" d="M669 325h50v14h-50zM666 290h60v11h-60zM669 345h56v14h-56z"/>
<path d="M557 81h176v54h-176zM557 136h176v1h-176zM557 142h176v3h-176zM557 156h176v1h-176zM557 186h176v1h-176zM557 197h176v2h-176zM557 221h176v1h-176zM557 227h176v4h-176zM557 237h176v3h-176zM557 243h176v1h-176zM557 245h176v2h-176zM557 249h176v1h-176zM557 252h176v1h-176zM557 260h176v1h-176zM557 263h176v1h-176zM557 286h176v1h-176zM557 289h176v1h-176zM557 301h176v1h-176zM557 304h176v1h-176zM557 307h176v1h-176zM557 310h176v1h-176zM557 323h176v1h-176zM557 342h176v1h-176zM557 364h176v1h-176zM557 382h176v1h-176zM557 385h176v3h-176zM557 409h176v1h-176zM557 412h176v3h-176zM557 420h176v3h-176zM557 461h176v2h-176zM557 522h176v1h-176zM557 529h176v1h-176zM557 533h176v1h-176zM557 542h176v1h-176zM557 544h176v1h-176zM557 563h176v1h-176zM557 568h176v1h-176zM557 590h176v1h-176zM557 593h176v6h-176zM557 603h176v1h-176zM557 630h176v1h-176zM557 639h176v1h-176zM557 659h176v2h-176zM557 664h176v1h-176zM557 679h176v2h-176zM557 707h176v6h-176zM557 714h176v1h-176zM557 716h176v1h-176zM557 718h176v1h-176z" fill="#fff"/><path d="M557 138h176v1h-176zM557 140h176v1h-176zM557 152h176v1h-176zM557 155h176v1h-176zM557 158h176v2h-176zM557 162h176v1h-176zM557 165h176v2h-176zM557 169h176v3h-176zM557 174h176v1h-176zM557 180h176v2h-176zM557 184h176v2h-176zM557 188h176v2h-176zM557 192h176v1h-176zM557 200h176v1h-176zM557 203h176v1h-176zM557 212h176v1h-176zM557 215h176v1h-176zM557 217h176v1h-176zM557 226h176v1h-176zM557 235h176v1h-176zM557 259h176v1h-176zM557 306h176v1h-176zM557 318h176v2h-176zM557 365h176v1h-176zM557 368h176v1h-176zM557 378h176v4h-176zM557 403h176v1h-176zM557 456h176v1h-176zM557 467h176v2h-176zM557 496h176v1h-176zM557 537h176v1h-176zM557 541h176v1h-176zM557 543h176v1h-176zM557 545h176v18h-176zM557 564h176v4h-176zM557 569h176v21h-176zM557 591h176v2h-176zM557 599h176v4h-176zM557 604h176v26h-176zM557 631h176v8h-176zM557 640h176v15h-176zM557 658h176v1h-176zM557 668h176v1h-176zM557 675h176v3h-176zM557 681h176v2h-176zM557 696h176v1h-176zM557 698h176v1h-176zM557 715h176v1h-176z" fill="#000"/>
<rect x="556.5" y="80.5" width="177" height="640" fill="none" stroke="#000" stroke-width="1"/>
<path d="M597.5 81v5.5M597.5 720v-5.5M639.5 81v5.5M639.5 720v-5.5M681.5 81v5.5M681.5 720v-5.5M722.5 81v5.5M722.5 720v-5.5M557 586.5h5.5M733 586.5h-5.5M557 453.5h5.5M733 453.5h-5.5M557 320.5h5.5M733 320.5h-5.5M557 186.5h5.5M733 186.5h-5.5" stroke="#000" stroke-width="1" opacity="0.8" fill="none"/>
<text x="645.4" y="73" font-size="15" text-anchor="middle">XY, V1*V4=EA10*EA05</text>
<text x="555.9" y="736" font-size="11.85" text-anchor="middle">320</text>
<text x="597.5" y="736" font-size="11.85" text-anchor="middle">335</text>
<text x="639.1" y="736" font-size="11.85" text-anchor="middle">350</text>
<text x="680.7" y="736" font-size="11.85" text-anchor="middle">365</text>
<text x="722.3" y="736" font-size="11.85" text-anchor="middle">380</text>
<text x="551.6" y="724" font-size="12" text-anchor="end">0</text>
<text x="551.6" y="591" font-size="12" text-anchor="end">5</text>
<text x="551.6" y="457" font-size="12" text-anchor="end">10</text>
<text x="551.6" y="324" font-size="12" text-anchor="end">15</text>
<text x="551.6" y="191" font-size="12" text-anchor="end">20</text>
</g>
<g id="panel3">
<rect x="769" y="81" width="176" height="639" filter="url(#nz3)"/>
<rect x="769" y="216" width="176" height="1" fill="url(#p13)"/>
<rect x="769" y="218" width="176" height="3" fill="url(#p23)"/>
<rect x="769" y="222" width="176" height="3" fill="url(#p33)"/>
<rect x="878" y="145" width="58" height="5" fill="url(#p43)"/>
<rect x="881" y="325" width="50" height="14" fill="url(#p53)"/>
<rect x="878" y="290" width="60" height="11" fill="url(#p63)"/>
<rect x="881" y="345" width="56" height="14" fill="url(#p73)"/>
<path filter="url(#nq3)" d="M769 216h176v1h-176zM769 218h176v3h-176zM878 145h58v5h-58z"/>
<path filter="url(#nh3)" d="M881 325h50v14h-50zM878 290h60v11h-60zM881 345h56v14h-56z"/>
<path d="M769 81h176v54h-176zM769 136h176v1h-176zM769 142h176v3h-176zM769 156h176v1h-176zM769 186h176v1h-176zM769 197h176v2h-176zM769 221h176v1h-176zM769 227h176v4h-176zM769 237h176v3h-176zM769 243h176v1h-176zM769 245h176v2h-176zM769 249h176v1h-176zM769 252h176v1h-176zM769 260h176v1h-176zM769 263h176v1h-176zM769 286h176v1h-176zM769 289h176v1h-176zM769 301h176v1h-176zM769 304h176v1h-176zM769 307h176v1h-176zM769 310h176v1h-176zM769 323h176v1h-176zM769 342h176v1h-176zM769 364h176v1h-176zM769 382h176v1h-176zM769 385h176v3h-176zM769 409h176v1h-176zM769 412h176v3h-176zM769 420h176v3h-176zM769 461h176v2h-176zM769 522h176v1h-176zM769 529h176v1h-176zM769 533h176v1h-176zM769 542h176v1h-176zM769 544h176v1h-176zM769 563h176v1h-176zM769 568h176v1h-176zM769 590h176v1h-176zM769 593h176v6h-176zM769 603h176v1h-176zM769 630h176v1h-176zM769 639h176v1h-176zM769 659h176v2h-176zM769 664h176v1h-176zM769 679h176v2h-176zM769 707h176v6h-176zM769 714h176v1h-176zM769 716h176v1h-176zM769 718h176v1h-176z" fill="#fff"/><path d="M769 138h176v1h-176zM769 140h176v1h-176zM769 152h176v1h-176zM769 155h176v1h-176zM769 158h176v2h-176zM769 162h176v1h-176zM769 165h176v2h-176zM769 169h176v3h-176zM769 174h176v1h-176zM769 180h176v2h-176zM769 184h176v2h-176zM769 188h176v2h-176zM769 192h176v1h-176zM769 200h176v1h-176zM769 203h176v1h-176zM769 212h176v1h-176zM769 215h176v1h-176zM769 217h176v1h-176zM769 226h176v1h-176zM769 235h176v1h-176zM769 259h176v1h-176zM769 306h176v1h-176zM769 318h176v2h-176zM769 365h176v1h-176zM769 368h176v1h-176zM769 378h176v4h-176zM769 403h176v1h-176zM769 456h176v1h-176zM769 467h176v2h-176zM769 496h176v1h-176zM769 537h176v1h-176zM769 541h176v1h-176zM769 543h176v1h-176zM769 545h176v18h-176zM769 564h176v4h-176zM769 569h176v21h-176zM769 591h176v2h-176zM769 599h176v4h-176zM769 604h176v26h-176zM769 631h176v8h-176zM769 640h176v15h-176zM769 658h176v1h-176zM769 668h176v1h-176zM769 675h176v3h-176zM769 681h176v2h-176zM769 696h176v1h-176zM769 698h176v1h-176zM769 715h176v1h-176z" fill="#000"/>
<rect x="768.5" y="80.5" width="177" height="640" fill="none" stroke="#000" stroke-width="1"/>
<path d="M810.5 81v5.5M810.5 720v-5.5M851.5 81v5.5M851.5 720v-5.5M893.5 81v5.5M893.5 720v-5.5M934.5 81v5.5M934.5 720v-5.5M769 586.5h5.5M945 586.5h-5.5M769 453.5h5.5M945 453.5h-5.5M769 320.5h5.5M945 320.5h-5.5M769 186.5h5.5M945 186.5h-5.5" stroke="#000" stroke-width="1" opacity="0.8" fill="none"/>
<text x="857.4" y="73" font-size="15" text-anchor="middle">YX, V1*V4=EA10*EA05</text>
<text x="768.2" y="736" font-size="11.85" text-anchor="middle">320</text>
<text x="809.8" y="736" font-size="11.85" text-anchor="middle">335</text>
<text x="851.4" y="736" font-size="11.85" text-anchor="middle">350</text>
<text x="893.0" y="736" font-size="11.85" text-anchor="middle">365</text>
<text x="934.6" y="736" font-size="11.85" text-anchor="middle">380</text>
<text x="763.6" y="724" font-size="12" text-anchor="end">0</text>
<text x="763.6" y="591" font-size="12" text-anchor="end">5</text>
<text x="763.6" y="457" font-size="12" text-anchor="end">10</text>
<text x="763.6" y="324" font-size="12" text-anchor="end">15</text>
<text x="763.6" y="191" font-size="12" text-anchor="end">20</text>
</g>
<text x="525" y="26" font-size="12.5">2019-02-26 0.0-24.0</text>
<text x="432" y="754.6" font-size="12.5">frequency (MHz)</text>
<text transform="translate(101.5,400) rotate(-90)" font-size="12.5" text-anchor="middle">UT (hours)</text>
<text transform="translate(974,400) rotate(-90)" font-size="12.5" text-anchor="middle">phase (deg.)</text>
<g id="colorbar"><rect x="1019.5" y="160.5" width="15" height="480" fill="url(#cb)" stroke="#000" stroke-width="1"/>
<text x="1013.6" y="203.3" font-size="10.8" text-anchor="end">150</text>
<text x="1013.6" y="270.0" font-size="10.8" text-anchor="end">100</text>
<text x="1013.6" y="336.6" font-size="10.8" text-anchor="end">50</text>
<text x="1013.6" y="403.3" font-size="10.8" text-anchor="end">0</text>
<text x="1013.6" y="470.0" font-size="10.8" text-anchor="end">−50</text>
<text x="1013.6" y="536.6" font-size="10.8" text-anchor="end">−100</text>
<text x="1013.6" y="603.3" font-size="10.8" text-anchor="end">−150</text>
<path d="M1020 200.5h5M1034 200.5h-5M1020 267.5h5M1034 267.5h-5M1020 333.5h5M1034 333.5h-5M1020 400.5h5M1034 400.5h-5M1020 467.5h5M1034 467.5h-5M1020 533.5h5M1034 533.5h-5M1020 600.5h5M1034 600.5h-5M1022.5 161v5M1022.5 640v-5M1025.5 161v5M1025.5 640v-5M1028.5 161v5M1028.5 640v-5M1031.5 161v5M1031.5 640v-5" stroke="#000" stroke-width="1" opacity="0.75" fill="none"/>
<text x="1017.6" y="646.8" font-size="1.1" text-anchor="middle" fill="#444">0.0</text>
<text x="1022.2" y="646.8" font-size="1.1" text-anchor="middle" fill="#444">0.2</text>
<text x="1025.3" y="646.8" font-size="1.1" text-anchor="middle" fill="#444">0.4</text>
<text x="1028.5" y="646.8" font-size="1.1" text-anchor="middle" fill="#444">0.6</text>
<text x="1031.6" y="646.8" font-size="1.1" text-anchor="middle" fill="#444">0.8</text>
<text x="1034.2" y="646.8" font-size="1.1" text-anchor="middle" fill="#444">1.0</text>
</g>
</svg></body></html>
